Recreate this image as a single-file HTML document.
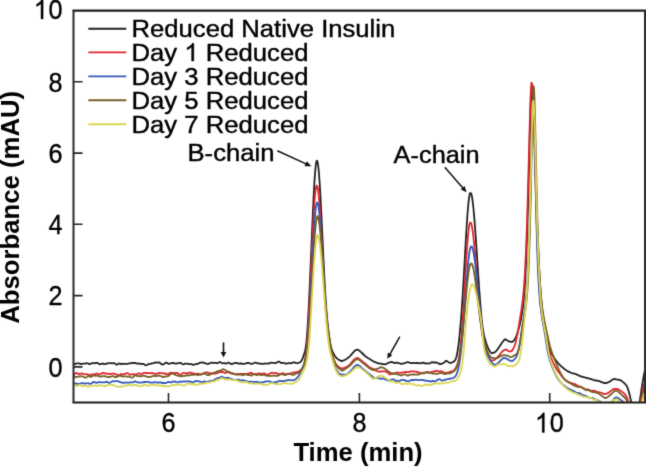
<!DOCTYPE html>
<html><head><meta charset="utf-8"><title>Chart</title>
<style>html,body{margin:0;padding:0;background:#fff;width:646px;height:468px;overflow:hidden}</style></head>
<body>
<svg width="646" height="468" viewBox="0 0 646 468" style="position:absolute;left:0;top:0;font-family:'Liberation Sans',sans-serif;filter:url(#soft)">
<rect width="646" height="468" fill="#fff"/>
<defs><filter id="soft" x="0" y="0" width="100%" height="100%" color-interpolation-filters="sRGB"><feConvolveMatrix order="3" kernelMatrix="0.0144 0.0912 0.0144 0.0912 0.5776 0.0912 0.0144 0.0912 0.0144" edgeMode="duplicate" preserveAlpha="false"/></filter><clipPath id="c"><rect x="73.5" y="10.6" width="571.5" height="391.9"/></clipPath></defs>
<g clip-path="url(#c)" fill="none" stroke-width="1.8" stroke-linejoin="round" stroke-linecap="round">
<path d="M73.0 363.8 L73.5 363.9 L74.0 364.1 L74.5 364.1 L75.0 364.1 L75.5 363.9 L76.0 363.7 L76.5 363.5 L77.0 363.3 L77.5 363.3 L78.0 363.3 L78.5 363.3 L79.0 363.4 L79.5 363.6 L80.0 363.7 L80.5 363.9 L81.0 364.0 L81.5 364.0 L82.0 363.9 L82.5 363.8 L83.0 363.7 L83.5 363.6 L84.0 363.6 L84.5 363.6 L85.0 363.6 L85.5 363.5 L86.0 363.3 L86.5 363.2 L87.0 363.2 L87.5 363.3 L88.0 363.5 L88.5 363.8 L89.0 364.0 L89.5 364.0 L90.0 364.0 L90.5 363.8 L91.0 363.6 L91.5 363.4 L92.0 363.3 L92.5 363.2 L93.0 363.1 L93.5 363.2 L94.0 363.2 L94.5 363.3 L95.0 363.2 L95.5 363.1 L96.0 363.0 L96.5 362.9 L97.0 362.9 L97.5 363.0 L98.0 363.3 L98.5 363.6 L99.0 363.9 L99.5 364.1 L100.0 364.3 L100.5 364.2 L101.0 364.0 L101.5 363.8 L102.0 363.6 L102.5 363.5 L103.0 363.7 L103.5 363.9 L104.0 364.1 L104.5 364.2 L105.0 364.1 L105.5 363.9 L106.0 363.8 L106.5 363.6 L107.0 363.5 L107.5 363.4 L108.0 363.3 L108.5 363.3 L109.0 363.2 L109.5 363.2 L110.0 363.2 L110.5 363.2 L111.0 363.2 L111.5 363.2 L112.0 363.3 L112.5 363.3 L113.0 363.2 L113.5 363.1 L114.0 363.1 L114.5 363.3 L115.0 363.6 L115.5 364.0 L116.0 364.4 L116.5 364.7 L117.0 364.7 L117.5 364.5 L118.0 364.1 L118.5 363.7 L119.0 363.5 L119.5 363.6 L120.0 363.7 L120.5 363.9 L121.0 364.0 L121.5 364.0 L122.0 363.9 L122.5 363.8 L123.0 363.7 L123.5 363.8 L124.0 363.8 L124.5 363.9 L125.0 363.8 L125.5 363.8 L126.0 363.8 L126.5 363.8 L127.0 363.9 L127.5 363.8 L128.0 363.7 L128.5 363.5 L129.0 363.4 L129.5 363.4 L130.0 363.4 L130.5 363.4 L131.0 363.3 L131.5 363.1 L132.0 363.0 L132.5 362.9 L133.0 362.9 L133.5 362.9 L134.0 363.0 L134.5 363.0 L135.0 363.0 L135.5 363.1 L136.0 363.3 L136.5 363.4 L137.0 363.6 L137.5 363.6 L138.0 363.6 L138.5 363.5 L139.0 363.5 L139.5 363.6 L140.0 363.7 L140.5 363.9 L141.0 364.0 L141.5 364.0 L142.0 363.9 L142.5 363.8 L143.0 363.9 L143.5 364.0 L144.0 364.2 L144.5 364.6 L145.0 364.9 L145.5 365.2 L146.0 365.3 L146.5 365.2 L147.0 365.0 L147.5 364.7 L148.0 364.4 L148.5 364.1 L149.0 364.0 L149.5 363.8 L150.0 363.8 L150.5 363.8 L151.0 363.7 L151.5 363.6 L152.0 363.4 L152.5 363.3 L153.0 363.2 L153.5 363.2 L154.0 363.0 L154.5 362.8 L155.0 362.6 L155.5 362.5 L156.0 362.5 L156.5 362.6 L157.0 362.7 L157.5 362.7 L158.0 362.6 L158.5 362.5 L159.0 362.5 L159.5 362.6 L160.0 362.9 L160.5 363.3 L161.0 363.7 L161.5 364.1 L162.0 364.4 L162.5 364.5 L163.0 364.5 L163.5 364.3 L164.0 364.0 L164.5 363.6 L165.0 363.2 L165.5 362.9 L166.0 362.7 L166.5 362.6 L167.0 362.8 L167.5 363.1 L168.0 363.5 L168.5 363.8 L169.0 363.8 L169.5 363.7 L170.0 363.5 L170.5 363.4 L171.0 363.3 L171.5 363.2 L172.0 363.1 L172.5 363.0 L173.0 363.0 L173.5 363.0 L174.0 363.2 L174.5 363.4 L175.0 363.6 L175.5 363.6 L176.0 363.6 L176.5 363.5 L177.0 363.4 L177.5 363.4 L178.0 363.3 L178.5 363.2 L179.0 363.1 L179.5 362.9 L180.0 362.9 L180.5 362.9 L181.0 363.1 L181.5 363.4 L182.0 363.8 L182.5 364.1 L183.0 364.3 L183.5 364.3 L184.0 364.2 L184.5 363.9 L185.0 363.7 L185.5 363.6 L186.0 363.6 L186.5 363.6 L187.0 363.7 L187.5 363.8 L188.0 363.9 L188.5 364.0 L189.0 364.1 L189.5 364.2 L190.0 364.2 L190.5 364.1 L191.0 364.1 L191.5 364.2 L192.0 364.4 L192.5 364.6 L193.0 364.8 L193.5 364.9 L194.0 364.7 L194.5 364.5 L195.0 364.3 L195.5 364.1 L196.0 364.1 L196.5 364.1 L197.0 364.0 L197.5 363.9 L198.0 363.7 L198.5 363.4 L199.0 363.1 L199.5 362.9 L200.0 362.8 L200.5 362.7 L201.0 362.6 L201.5 362.5 L202.0 362.4 L202.5 362.4 L203.0 362.5 L203.5 362.7 L204.0 362.9 L204.5 363.1 L205.0 363.2 L205.5 363.4 L206.0 363.5 L206.5 363.6 L207.0 363.8 L207.5 363.9 L208.0 363.9 L208.5 363.8 L209.0 363.7 L209.5 363.4 L210.0 363.2 L210.5 362.9 L211.0 362.8 L211.5 362.7 L212.0 362.7 L212.5 362.8 L213.0 362.8 L213.5 362.8 L214.0 362.8 L214.5 362.8 L215.0 362.7 L215.5 362.8 L216.0 362.9 L216.5 363.1 L217.0 363.2 L217.5 363.2 L218.0 363.0 L218.5 362.7 L219.0 362.4 L219.5 362.2 L220.0 362.1 L220.5 362.2 L221.0 362.5 L221.5 362.9 L222.0 363.2 L222.5 363.3 L223.0 363.3 L223.5 363.2 L224.0 363.1 L224.5 363.2 L225.0 363.3 L225.5 363.5 L226.0 363.6 L226.5 363.5 L227.0 363.3 L227.5 363.0 L228.0 362.7 L228.5 362.6 L229.0 362.7 L229.5 363.0 L230.0 363.4 L230.5 363.8 L231.0 364.0 L231.5 364.1 L232.0 364.0 L232.5 363.8 L233.0 363.6 L233.5 363.4 L234.0 363.3 L234.5 363.2 L235.0 363.1 L235.5 362.9 L236.0 362.9 L236.5 362.9 L237.0 363.0 L237.5 363.2 L238.0 363.5 L238.5 363.6 L239.0 363.7 L239.5 363.6 L240.0 363.5 L240.5 363.5 L241.0 363.4 L241.5 363.5 L242.0 363.6 L242.5 363.8 L243.0 363.9 L243.5 363.9 L244.0 363.9 L244.5 363.8 L245.0 363.7 L245.5 363.5 L246.0 363.3 L246.5 363.2 L247.0 363.1 L247.5 363.0 L248.0 362.9 L248.5 362.9 L249.0 363.0 L249.5 363.2 L250.0 363.5 L250.5 363.7 L251.0 363.8 L251.5 363.8 L252.0 363.8 L252.5 363.7 L253.0 363.5 L253.5 363.3 L254.0 363.0 L254.5 362.8 L255.0 362.7 L255.5 362.7 L256.0 362.8 L256.5 363.0 L257.0 363.1 L257.5 363.3 L258.0 363.4 L258.5 363.4 L259.0 363.5 L259.5 363.5 L260.0 363.6 L260.5 363.7 L261.0 363.7 L261.5 363.8 L262.0 363.8 L262.5 363.9 L263.0 363.9 L263.5 363.8 L264.0 363.7 L264.5 363.6 L265.0 363.5 L265.5 363.6 L266.0 363.6 L266.5 363.7 L267.0 363.6 L267.5 363.6 L268.0 363.5 L268.5 363.5 L269.0 363.4 L269.5 363.3 L270.0 363.1 L270.5 362.8 L271.0 362.7 L271.5 362.7 L272.0 362.8 L272.5 362.8 L273.0 362.8 L273.5 362.8 L274.0 362.8 L274.5 363.0 L275.0 363.1 L275.5 363.2 L276.0 363.1 L276.5 362.8 L277.0 362.4 L277.5 362.0 L278.0 361.7 L278.5 361.6 L279.0 361.6 L279.5 361.8 L280.0 362.2 L280.5 362.5 L281.0 362.9 L281.5 363.0 L282.0 363.0 L282.5 362.8 L283.0 362.8 L283.5 362.8 L284.0 363.0 L284.5 363.2 L285.0 363.4 L285.5 363.6 L286.0 363.6 L286.5 363.5 L287.0 363.4 L287.5 363.4 L288.0 363.3 L288.5 363.2 L289.0 363.1 L289.5 363.1 L290.0 363.1 L290.5 363.2 L291.0 363.3 L291.5 363.2 L292.0 363.0 L292.5 362.7 L293.0 362.5 L293.5 362.4 L294.0 362.4 L294.5 362.5 L295.0 362.6 L295.5 362.8 L296.0 363.0 L296.5 363.2 L297.0 363.3 L297.5 363.2 L298.0 363.0 L298.5 362.8 L299.0 362.6 L299.5 362.5 L300.0 362.3 L300.5 361.9 L301.0 361.4 L301.5 360.7 L302.0 359.8 L302.5 358.6 L303.0 357.3 L303.5 355.9 L304.0 354.4 L304.5 352.8 L305.0 351.0 L305.5 348.6 L306.0 345.5 L306.5 341.2 L307.0 335.6 L307.5 328.7 L308.0 320.5 L308.5 311.4 L309.0 301.5 L309.5 290.9 L310.0 279.8 L310.5 268.4 L311.0 256.7 L311.5 244.7 L312.0 232.8 L312.5 221.1 L313.0 209.9 L313.5 199.2 L314.0 189.5 L314.5 180.9 L315.0 173.6 L315.5 167.8 L316.0 163.6 L316.5 161.2 L317.0 160.6 L317.5 161.7 L318.0 164.3 L318.5 168.4 L319.0 173.9 L319.5 180.7 L320.0 188.6 L320.5 197.4 L321.0 207.0 L321.5 217.2 L322.0 227.8 L322.5 238.6 L323.0 249.4 L323.5 260.0 L324.0 270.3 L324.5 280.0 L325.0 289.2 L325.5 297.5 L326.0 304.9 L326.5 311.5 L327.0 317.3 L327.5 322.5 L328.0 327.1 L328.5 331.3 L329.0 335.2 L329.5 338.7 L330.0 341.9 L330.5 344.6 L331.0 346.8 L331.5 348.6 L332.0 350.1 L332.5 351.4 L333.0 352.5 L333.5 353.5 L334.0 354.4 L334.5 355.3 L335.0 356.1 L335.5 356.8 L336.0 357.4 L336.5 357.9 L337.0 358.4 L337.5 358.9 L338.0 359.3 L338.5 359.6 L339.0 359.9 L339.5 360.1 L340.0 360.4 L340.5 360.6 L341.0 360.9 L341.5 361.0 L342.0 361.1 L342.5 360.9 L343.0 360.7 L343.5 360.5 L344.0 360.3 L344.5 360.1 L345.0 359.8 L345.5 359.5 L346.0 359.2 L346.5 358.9 L347.0 358.5 L347.5 358.2 L348.0 357.8 L348.5 357.4 L349.0 357.0 L349.5 356.6 L350.0 356.1 L350.5 355.6 L351.0 355.0 L351.5 354.5 L352.0 353.9 L352.5 353.2 L353.0 352.6 L353.5 352.1 L354.0 351.5 L354.5 351.0 L355.0 350.6 L355.5 350.2 L356.0 350.0 L356.5 349.9 L357.0 349.7 L357.5 349.7 L358.0 349.8 L358.5 350.1 L359.0 350.4 L359.5 350.8 L360.0 351.2 L360.5 351.6 L361.0 352.1 L361.5 352.5 L362.0 353.0 L362.5 353.5 L363.0 354.0 L363.5 354.5 L364.0 355.0 L364.5 355.5 L365.0 355.9 L365.5 356.3 L366.0 356.7 L366.5 357.1 L367.0 357.4 L367.5 357.8 L368.0 358.1 L368.5 358.3 L369.0 358.6 L369.5 358.9 L370.0 359.2 L370.5 359.5 L371.0 359.8 L371.5 360.2 L372.0 360.5 L372.5 360.8 L373.0 361.1 L373.5 361.4 L374.0 361.7 L374.5 361.9 L375.0 362.1 L375.5 362.3 L376.0 362.5 L376.5 362.7 L377.0 362.9 L377.5 363.0 L378.0 363.2 L378.5 363.3 L379.0 363.5 L379.5 363.6 L380.0 363.7 L380.5 363.7 L381.0 363.7 L381.5 363.8 L382.0 363.9 L382.5 364.0 L383.0 364.1 L383.5 364.2 L384.0 364.2 L384.5 364.3 L385.0 364.3 L385.5 364.3 L386.0 364.1 L386.5 363.9 L387.0 363.6 L387.5 363.3 L388.0 363.0 L388.5 362.8 L389.0 362.6 L389.5 362.5 L390.0 362.3 L390.5 362.2 L391.0 362.1 L391.5 362.0 L392.0 362.0 L392.5 362.2 L393.0 362.4 L393.5 362.7 L394.0 362.9 L394.5 363.0 L395.0 363.0 L395.5 362.8 L396.0 362.6 L396.5 362.6 L397.0 362.7 L397.5 362.9 L398.0 363.0 L398.5 363.1 L399.0 363.2 L399.5 363.3 L400.0 363.5 L400.5 363.6 L401.0 363.8 L401.5 363.8 L402.0 363.8 L402.5 363.7 L403.0 363.6 L403.5 363.4 L404.0 363.3 L404.5 363.2 L405.0 363.0 L405.5 362.8 L406.0 362.6 L406.5 362.4 L407.0 362.3 L407.5 362.2 L408.0 362.2 L408.5 362.3 L409.0 362.5 L409.5 362.7 L410.0 362.9 L410.5 363.0 L411.0 363.2 L411.5 363.2 L412.0 363.1 L412.5 362.9 L413.0 362.8 L413.5 362.9 L414.0 363.0 L414.5 363.2 L415.0 363.2 L415.5 363.1 L416.0 363.0 L416.5 363.0 L417.0 362.9 L417.5 362.9 L418.0 363.0 L418.5 363.1 L419.0 363.2 L419.5 363.3 L420.0 363.3 L420.5 363.3 L421.0 363.2 L421.5 363.1 L422.0 362.9 L422.5 362.8 L423.0 362.7 L423.5 362.7 L424.0 362.9 L424.5 363.1 L425.0 363.3 L425.5 363.5 L426.0 363.5 L426.5 363.4 L427.0 363.4 L427.5 363.4 L428.0 363.4 L428.5 363.4 L429.0 363.5 L429.5 363.4 L430.0 363.3 L430.5 363.0 L431.0 362.7 L431.5 362.4 L432.0 362.2 L432.5 362.2 L433.0 362.3 L433.5 362.5 L434.0 362.6 L434.5 362.5 L435.0 362.5 L435.5 362.4 L436.0 362.5 L436.5 362.6 L437.0 362.7 L437.5 362.9 L438.0 363.1 L438.5 363.4 L439.0 363.7 L439.5 363.9 L440.0 364.0 L440.5 364.0 L441.0 363.9 L441.5 363.8 L442.0 363.6 L442.5 363.4 L443.0 363.2 L443.5 363.0 L444.0 362.6 L444.5 362.1 L445.0 361.6 L445.5 361.1 L446.0 360.9 L446.5 360.9 L447.0 361.1 L447.5 361.5 L448.0 361.9 L448.5 362.3 L449.0 362.5 L449.5 362.7 L450.0 362.8 L450.5 362.8 L451.0 362.8 L451.5 362.7 L452.0 362.4 L452.5 362.2 L453.0 362.0 L453.5 361.8 L454.0 361.5 L454.5 361.0 L455.0 360.3 L455.5 359.4 L456.0 358.1 L456.5 356.4 L457.0 354.3 L457.5 351.6 L458.0 348.4 L458.5 344.8 L459.0 340.6 L459.5 336.0 L460.0 330.9 L460.5 325.3 L461.0 319.2 L461.5 312.7 L462.0 305.6 L462.5 298.0 L463.0 290.0 L463.5 281.6 L464.0 272.9 L464.5 264.0 L465.0 255.0 L465.5 246.0 L466.0 237.3 L466.5 229.0 L467.0 221.2 L467.5 214.0 L468.0 207.7 L468.5 202.4 L469.0 198.1 L469.5 195.0 L470.0 193.2 L470.5 193.2 L471.0 193.2 L471.5 194.6 L472.0 197.0 L472.5 200.2 L473.0 204.2 L473.5 209.0 L474.0 214.4 L474.5 220.4 L475.0 226.9 L475.5 233.9 L476.0 241.1 L476.5 248.6 L477.0 256.2 L477.5 263.8 L478.0 271.4 L478.5 278.9 L479.0 286.2 L479.5 293.2 L480.0 299.9 L480.5 306.3 L481.0 312.1 L481.5 317.5 L482.0 322.2 L482.5 326.3 L483.0 329.8 L483.5 332.8 L484.0 335.2 L484.5 337.3 L485.0 339.1 L485.5 340.8 L486.0 342.4 L486.5 343.9 L487.0 345.3 L487.5 346.6 L488.0 347.9 L488.5 349.0 L489.0 349.9 L489.5 350.8 L490.0 351.5 L490.5 352.1 L491.0 352.6 L491.5 352.9 L492.0 353.2 L492.5 353.2 L493.0 353.0 L493.5 352.9 L494.0 352.7 L494.5 352.4 L495.0 352.1 L495.5 351.6 L496.0 351.1 L496.5 350.6 L497.0 350.0 L497.5 349.4 L498.0 348.7 L498.5 348.0 L499.0 347.3 L499.5 346.6 L500.0 345.8 L500.5 345.0 L501.0 344.2 L501.5 343.4 L502.0 342.7 L502.5 342.0 L503.0 341.3 L503.5 340.8 L504.0 340.2 L504.5 339.8 L505.0 339.3 L505.5 339.2 L506.0 339.6 L506.5 340.0 L507.0 340.3 L507.5 340.6 L508.0 340.8 L508.5 341.1 L509.0 341.4 L509.5 341.6 L510.0 341.7 L510.5 341.7 L511.0 341.8 L511.5 342.0 L512.0 341.9 L512.5 341.7 L513.0 341.3 L513.5 340.8 L514.0 340.3 L514.5 339.6 L515.0 338.8 L515.5 337.8 L516.0 336.7 L516.5 335.5 L517.0 334.1 L517.5 332.6 L518.0 331.1 L518.5 329.5 L519.0 327.7 L519.5 325.8 L520.0 323.7 L520.5 321.4 L521.0 318.8 L521.5 316.1 L522.0 313.1 L522.5 309.8 L523.0 306.0 L523.5 301.6 L524.0 296.4 L524.5 290.0 L525.0 282.4 L525.5 273.4 L526.0 262.9 L526.5 250.8 L527.0 237.2 L527.5 221.9 L528.0 205.0 L528.5 186.7 L529.0 167.4 L529.5 147.6 L530.0 128.5 L530.5 111.3 L531.0 97.6 L531.5 88.9 L532.0 86.7 L532.5 89.1 L533.0 96.3 L533.5 107.2 L534.0 121.0 L534.5 136.7 L535.0 153.3 L535.5 170.2 L536.0 186.8 L536.5 202.6 L537.0 217.5 L537.5 231.4 L538.0 244.0 L538.5 255.4 L539.0 265.8 L539.5 275.0 L540.0 283.1 L540.5 290.4 L541.0 296.7 L541.5 302.3 L542.0 307.1 L542.5 311.3 L543.0 314.9 L543.5 318.0 L544.0 320.7 L544.5 323.3 L545.0 325.7 L545.5 328.2 L546.0 331.0 L546.5 334.0 L547.0 337.2 L547.5 340.3 L548.0 343.3 L548.5 345.8 L549.0 347.9 L549.5 349.5 L550.0 350.8 L550.5 351.9 L551.0 352.8 L551.5 353.7 L552.0 354.5 L552.5 355.2 L553.0 356.0 L553.5 356.8 L554.0 357.5 L554.5 358.2 L555.0 359.0 L555.5 359.7 L556.0 360.4 L556.5 361.1 L557.0 361.8 L557.5 362.4 L558.0 363.0 L558.5 363.6 L559.0 364.1 L559.5 364.6 L560.0 365.1 L560.5 365.6 L561.0 366.1 L561.5 366.5 L562.0 366.9 L562.5 367.4 L563.0 367.8 L563.5 368.2 L564.0 368.6 L564.5 369.0 L565.0 369.4 L565.5 369.8 L566.0 370.1 L566.5 370.5 L567.0 370.8 L567.5 371.1 L568.0 371.4 L568.5 371.6 L569.0 371.8 L569.5 372.0 L570.0 372.2 L570.5 372.5 L571.0 372.8 L571.5 373.0 L572.0 373.2 L572.5 373.3 L573.0 373.3 L573.5 373.4 L574.0 373.5 L574.5 373.7 L575.0 373.8 L575.5 374.0 L576.0 374.2 L576.5 374.4 L577.0 374.7 L577.5 374.9 L578.0 375.2 L578.5 375.4 L579.0 375.6 L579.5 375.8 L580.0 376.0 L580.5 376.2 L581.0 376.4 L581.5 376.5 L582.0 376.7 L582.5 376.9 L583.0 377.1 L583.5 377.2 L584.0 377.2 L584.5 377.3 L585.0 377.4 L585.5 377.6 L586.0 377.8 L586.5 378.0 L587.0 378.1 L587.5 378.1 L588.0 378.2 L588.5 378.3 L589.0 378.5 L589.5 378.7 L590.0 378.9 L590.5 379.0 L591.0 379.1 L591.5 379.1 L592.0 379.3 L592.5 379.5 L593.0 379.8 L593.5 380.0 L594.0 380.2 L594.5 380.3 L595.0 380.3 L595.5 380.4 L596.0 380.5 L596.5 380.5 L597.0 380.6 L597.5 380.7 L598.0 380.8 L598.5 381.0 L599.0 381.1 L599.5 381.2 L600.0 381.4 L600.5 381.6 L601.0 381.9 L601.5 382.1 L602.0 382.3 L602.5 382.4 L603.0 382.6 L603.5 382.8 L604.0 382.9 L604.5 383.0 L605.0 383.1 L605.5 383.1 L606.0 383.0 L606.5 382.9 L607.0 382.8 L607.5 382.6 L608.0 382.4 L608.5 382.2 L609.0 382.0 L609.5 381.7 L610.0 381.4 L610.5 381.1 L611.0 380.7 L611.5 380.3 L612.0 380.0 L612.5 379.6 L613.0 379.4 L613.5 379.2 L614.0 379.0 L614.5 379.0 L615.0 379.1 L615.5 379.2 L616.0 379.4 L616.5 379.5 L617.0 379.6 L617.5 379.6 L618.0 379.7 L618.5 379.8 L619.0 379.9 L619.5 380.0 L620.0 380.1 L620.5 380.3 L621.0 380.5 L621.5 380.8 L622.0 381.2 L622.5 381.6 L623.0 382.1 L623.5 382.5 L624.0 382.9 L624.5 383.3 L625.0 383.8 L625.5 384.3 L626.0 384.9 L626.5 385.7 L627.0 386.6 L627.5 387.7 L628.0 389.1 L628.5 390.6 L629.0 392.4 L629.5 394.3 L630.0 396.5 L630.5 398.8 L631.0 401.2 L631.5 403.8 L632.0 406.3 L632.5 408.7 L633.0 410.9 L633.5 412.9 L634.0 414.6 L634.5 416.0 L635.0 417.1 L635.5 417.8 L636.0 418.4 L636.5 417.8 L637.0 416.9 L637.5 415.2 L638.0 412.9 L638.5 409.9 L639.0 406.6 L639.5 403.1 L640.0 399.6 L640.5 396.2 L641.0 392.8 L641.5 389.5 L642.0 386.3 L642.5 383.2 L643.0 380.1 L643.5 377.2 L644.0 374.5 L644.5 372.2 L645.0 370.4" stroke="#222222"/>
<path d="M73.0 375.2 L73.5 375.0 L74.0 374.8 L74.5 374.3 L75.0 373.8 L75.5 373.3 L76.0 373.0 L76.5 373.0 L77.0 373.1 L77.5 373.4 L78.0 373.7 L78.5 373.9 L79.0 374.0 L79.5 373.9 L80.0 373.8 L80.5 373.7 L81.0 373.5 L81.5 373.4 L82.0 373.5 L82.5 373.6 L83.0 373.8 L83.5 374.0 L84.0 374.2 L84.5 374.3 L85.0 374.3 L85.5 374.2 L86.0 374.2 L86.5 374.2 L87.0 374.3 L87.5 374.4 L88.0 374.6 L88.5 374.8 L89.0 375.0 L89.5 375.1 L90.0 375.1 L90.5 374.9 L91.0 374.7 L91.5 374.5 L92.0 374.4 L92.5 374.4 L93.0 374.4 L93.5 374.4 L94.0 374.4 L94.5 374.3 L95.0 374.1 L95.5 373.9 L96.0 373.7 L96.5 373.6 L97.0 373.5 L97.5 373.6 L98.0 373.8 L98.5 374.0 L99.0 374.2 L99.5 374.3 L100.0 374.3 L100.5 374.2 L101.0 373.9 L101.5 373.6 L102.0 373.2 L102.5 372.9 L103.0 372.9 L103.5 373.0 L104.0 373.2 L104.5 373.4 L105.0 373.5 L105.5 373.5 L106.0 373.5 L106.5 373.5 L107.0 373.6 L107.5 373.7 L108.0 373.8 L108.5 373.9 L109.0 374.0 L109.5 374.1 L110.0 374.1 L110.5 374.1 L111.0 374.0 L111.5 373.8 L112.0 373.7 L112.5 373.6 L113.0 373.6 L113.5 373.6 L114.0 373.7 L114.5 373.8 L115.0 373.9 L115.5 374.0 L116.0 374.3 L116.5 374.6 L117.0 374.9 L117.5 375.1 L118.0 375.2 L118.5 375.2 L119.0 375.2 L119.5 375.0 L120.0 374.7 L120.5 374.4 L121.0 374.2 L121.5 374.0 L122.0 374.1 L122.5 374.3 L123.0 374.4 L123.5 374.5 L124.0 374.4 L124.5 374.1 L125.0 373.9 L125.5 373.6 L126.0 373.4 L126.5 373.2 L127.0 373.2 L127.5 373.2 L128.0 373.4 L128.5 373.7 L129.0 374.0 L129.5 374.3 L130.0 374.5 L130.5 374.6 L131.0 374.5 L131.5 374.4 L132.0 374.3 L132.5 374.3 L133.0 374.2 L133.5 374.2 L134.0 374.2 L134.5 374.3 L135.0 374.5 L135.5 374.6 L136.0 374.6 L136.5 374.4 L137.0 374.1 L137.5 373.8 L138.0 373.5 L138.5 373.3 L139.0 373.3 L139.5 373.4 L140.0 373.6 L140.5 373.8 L141.0 373.9 L141.5 373.9 L142.0 373.8 L142.5 373.6 L143.0 373.3 L143.5 373.0 L144.0 372.8 L144.5 372.8 L145.0 372.9 L145.5 373.1 L146.0 373.1 L146.5 373.1 L147.0 373.0 L147.5 372.9 L148.0 373.0 L148.5 373.1 L149.0 373.2 L149.5 373.3 L150.0 373.3 L150.5 373.2 L151.0 373.1 L151.5 373.0 L152.0 373.0 L152.5 373.0 L153.0 373.2 L153.5 373.5 L154.0 373.7 L154.5 373.8 L155.0 373.9 L155.5 373.9 L156.0 374.0 L156.5 373.9 L157.0 373.8 L157.5 373.5 L158.0 373.2 L158.5 372.9 L159.0 372.8 L159.5 372.9 L160.0 373.0 L160.5 373.2 L161.0 373.2 L161.5 373.2 L162.0 373.2 L162.5 373.3 L163.0 373.4 L163.5 373.5 L164.0 373.5 L164.5 373.6 L165.0 373.5 L165.5 373.5 L166.0 373.7 L166.5 373.9 L167.0 374.1 L167.5 374.3 L168.0 374.4 L168.5 374.2 L169.0 373.8 L169.5 373.3 L170.0 372.9 L170.5 372.7 L171.0 372.8 L171.5 372.9 L172.0 373.0 L172.5 373.0 L173.0 373.0 L173.5 373.0 L174.0 373.1 L174.5 373.1 L175.0 373.2 L175.5 373.1 L176.0 372.9 L176.5 372.8 L177.0 372.8 L177.5 372.9 L178.0 373.2 L178.5 373.6 L179.0 374.1 L179.5 374.5 L180.0 374.7 L180.5 374.8 L181.0 374.7 L181.5 374.3 L182.0 373.9 L182.5 373.4 L183.0 373.0 L183.5 372.8 L184.0 372.8 L184.5 373.0 L185.0 373.2 L185.5 373.4 L186.0 373.5 L186.5 373.4 L187.0 373.3 L187.5 373.2 L188.0 373.1 L188.5 373.0 L189.0 372.8 L189.5 372.7 L190.0 372.6 L190.5 372.6 L191.0 372.7 L191.5 372.9 L192.0 373.1 L192.5 373.3 L193.0 373.4 L193.5 373.5 L194.0 373.6 L194.5 373.7 L195.0 373.8 L195.5 373.8 L196.0 373.8 L196.5 373.8 L197.0 373.7 L197.5 373.7 L198.0 373.7 L198.5 373.7 L199.0 373.8 L199.5 374.0 L200.0 374.2 L200.5 374.3 L201.0 374.3 L201.5 374.2 L202.0 374.1 L202.5 374.0 L203.0 373.9 L203.5 373.8 L204.0 373.5 L204.5 373.2 L205.0 372.9 L205.5 372.6 L206.0 372.5 L206.5 372.4 L207.0 372.5 L207.5 372.5 L208.0 372.7 L208.5 372.9 L209.0 373.1 L209.5 373.2 L210.0 373.3 L210.5 373.3 L211.0 373.3 L211.5 373.3 L212.0 373.3 L212.5 373.4 L213.0 373.5 L213.5 373.6 L214.0 373.7 L214.5 373.7 L215.0 373.7 L215.5 373.6 L216.0 373.5 L216.5 373.4 L217.0 373.2 L217.5 372.9 L218.0 372.6 L218.5 372.4 L219.0 372.2 L219.5 372.2 L220.0 372.2 L220.5 372.2 L221.0 372.2 L221.5 372.1 L222.0 372.0 L222.5 371.9 L223.0 371.9 L223.5 372.2 L224.0 372.5 L224.5 372.8 L225.0 373.0 L225.5 372.9 L226.0 372.7 L226.5 372.5 L227.0 372.3 L227.5 372.2 L228.0 372.2 L228.5 372.3 L229.0 372.5 L229.5 372.7 L230.0 372.9 L230.5 373.2 L231.0 373.4 L231.5 373.5 L232.0 373.5 L232.5 373.6 L233.0 373.6 L233.5 373.8 L234.0 374.0 L234.5 374.2 L235.0 374.3 L235.5 374.4 L236.0 374.4 L236.5 374.3 L237.0 374.2 L237.5 374.1 L238.0 374.0 L238.5 373.9 L239.0 374.0 L239.5 374.0 L240.0 374.0 L240.5 374.0 L241.0 373.9 L241.5 373.9 L242.0 373.8 L242.5 373.8 L243.0 373.8 L243.5 373.9 L244.0 373.9 L244.5 374.0 L245.0 374.1 L245.5 374.1 L246.0 374.1 L246.5 374.0 L247.0 373.8 L247.5 373.7 L248.0 373.7 L248.5 373.6 L249.0 373.5 L249.5 373.3 L250.0 373.1 L250.5 373.0 L251.0 372.9 L251.5 373.0 L252.0 373.3 L252.5 373.5 L253.0 373.8 L253.5 373.9 L254.0 374.0 L254.5 374.1 L255.0 374.1 L255.5 374.1 L256.0 374.1 L256.5 374.1 L257.0 374.0 L257.5 373.8 L258.0 373.6 L258.5 373.5 L259.0 373.5 L259.5 373.6 L260.0 373.7 L260.5 373.8 L261.0 373.8 L261.5 373.7 L262.0 373.6 L262.5 373.6 L263.0 373.6 L263.5 373.6 L264.0 373.5 L264.5 373.5 L265.0 373.6 L265.5 373.9 L266.0 374.3 L266.5 374.6 L267.0 374.8 L267.5 374.8 L268.0 374.6 L268.5 374.3 L269.0 374.0 L269.5 373.7 L270.0 373.4 L270.5 373.3 L271.0 373.1 L271.5 372.9 L272.0 372.7 L272.5 372.8 L273.0 373.0 L273.5 373.2 L274.0 373.3 L274.5 373.3 L275.0 373.1 L275.5 373.0 L276.0 373.0 L276.5 373.1 L277.0 373.4 L277.5 373.6 L278.0 373.8 L278.5 373.9 L279.0 374.0 L279.5 374.1 L280.0 374.1 L280.5 374.0 L281.0 373.8 L281.5 373.6 L282.0 373.4 L282.5 373.3 L283.0 373.2 L283.5 373.3 L284.0 373.6 L284.5 373.8 L285.0 374.0 L285.5 374.2 L286.0 374.2 L286.5 374.2 L287.0 374.2 L287.5 374.2 L288.0 374.2 L288.5 374.1 L289.0 374.0 L289.5 373.8 L290.0 373.7 L290.5 373.5 L291.0 373.4 L291.5 373.2 L292.0 373.0 L292.5 372.8 L293.0 372.6 L293.5 372.5 L294.0 372.5 L294.5 372.6 L295.0 372.5 L295.5 372.4 L296.0 372.3 L296.5 372.1 L297.0 372.0 L297.5 371.9 L298.0 371.8 L298.5 371.6 L299.0 371.4 L299.5 371.0 L300.0 370.6 L300.5 370.2 L301.0 369.7 L301.5 369.2 L302.0 368.6 L302.5 367.9 L303.0 367.0 L303.5 365.9 L304.0 364.4 L304.5 362.4 L305.0 359.8 L305.5 356.6 L306.0 352.5 L306.5 347.7 L307.0 342.0 L307.5 335.5 L308.0 328.2 L308.5 320.1 L309.0 311.3 L309.5 301.8 L310.0 291.7 L310.5 281.1 L311.0 270.3 L311.5 259.3 L312.0 248.4 L312.5 237.7 L313.0 227.5 L313.5 218.0 L314.0 209.4 L314.5 201.9 L315.0 195.6 L315.5 190.8 L316.0 187.4 L316.5 185.7 L317.0 185.6 L317.5 186.8 L318.0 189.5 L318.5 193.4 L319.0 198.5 L319.5 204.7 L320.0 211.8 L320.5 219.7 L321.0 228.3 L321.5 237.2 L322.0 246.4 L322.5 255.8 L323.0 265.0 L323.5 274.2 L324.0 283.0 L324.5 291.4 L325.0 299.3 L325.5 306.7 L326.0 313.5 L326.5 319.7 L327.0 325.4 L327.5 330.3 L328.0 334.7 L328.5 338.6 L329.0 341.9 L329.5 344.8 L330.0 347.2 L330.5 349.4 L331.0 351.2 L331.5 352.9 L332.0 354.4 L332.5 355.9 L333.0 357.3 L333.5 358.6 L334.0 359.9 L334.5 361.1 L335.0 362.2 L335.5 363.2 L336.0 364.0 L336.5 364.7 L337.0 365.3 L337.5 365.9 L338.0 366.3 L338.5 366.7 L339.0 367.1 L339.5 367.5 L340.0 367.8 L340.5 368.1 L341.0 368.4 L341.5 368.5 L342.0 368.5 L342.5 368.5 L343.0 368.3 L343.5 368.2 L344.0 368.0 L344.5 367.9 L345.0 367.7 L345.5 367.4 L346.0 367.2 L346.5 366.9 L347.0 366.6 L347.5 366.3 L348.0 366.0 L348.5 365.7 L349.0 365.3 L349.5 364.9 L350.0 364.4 L350.5 363.8 L351.0 363.2 L351.5 362.6 L352.0 362.0 L352.5 361.4 L353.0 360.8 L353.5 360.2 L354.0 359.7 L354.5 359.2 L355.0 358.9 L355.5 358.6 L356.0 358.4 L356.5 358.2 L357.0 357.9 L357.5 357.9 L358.0 358.1 L358.5 358.4 L359.0 358.7 L359.5 359.1 L360.0 359.5 L360.5 359.9 L361.0 360.3 L361.5 360.7 L362.0 361.0 L362.5 361.5 L363.0 361.9 L363.5 362.3 L364.0 362.8 L364.5 363.1 L365.0 363.5 L365.5 363.9 L366.0 364.2 L366.5 364.6 L367.0 365.1 L367.5 365.5 L368.0 365.9 L368.5 366.4 L369.0 366.8 L369.5 367.1 L370.0 367.5 L370.5 367.8 L371.0 368.1 L371.5 368.4 L372.0 368.6 L372.5 368.7 L373.0 368.8 L373.5 369.0 L374.0 369.2 L374.5 369.5 L375.0 369.9 L375.5 370.3 L376.0 370.7 L376.5 371.0 L377.0 371.2 L377.5 371.3 L378.0 371.4 L378.5 371.4 L379.0 371.5 L379.5 371.6 L380.0 371.6 L380.5 371.6 L381.0 371.5 L381.5 371.5 L382.0 371.4 L382.5 371.4 L383.0 371.3 L383.5 371.3 L384.0 371.3 L384.5 371.3 L385.0 371.4 L385.5 371.6 L386.0 371.8 L386.5 372.0 L387.0 372.3 L387.5 372.6 L388.0 373.0 L388.5 373.4 L389.0 373.9 L389.5 374.2 L390.0 374.4 L390.5 374.4 L391.0 374.2 L391.5 373.9 L392.0 373.6 L392.5 373.4 L393.0 373.3 L393.5 373.3 L394.0 373.3 L394.5 373.2 L395.0 373.0 L395.5 372.8 L396.0 372.7 L396.5 372.7 L397.0 372.7 L397.5 372.7 L398.0 372.7 L398.5 372.7 L399.0 372.7 L399.5 372.8 L400.0 372.9 L400.5 372.9 L401.0 372.8 L401.5 372.7 L402.0 372.5 L402.5 372.4 L403.0 372.4 L403.5 372.4 L404.0 372.4 L404.5 372.3 L405.0 372.1 L405.5 372.0 L406.0 372.0 L406.5 372.0 L407.0 372.1 L407.5 372.2 L408.0 372.2 L408.5 372.1 L409.0 371.9 L409.5 371.8 L410.0 371.6 L410.5 371.4 L411.0 371.4 L411.5 371.3 L412.0 371.3 L412.5 371.3 L413.0 371.3 L413.5 371.4 L414.0 371.5 L414.5 371.6 L415.0 371.7 L415.5 371.7 L416.0 371.7 L416.5 371.8 L417.0 371.9 L417.5 372.0 L418.0 372.2 L418.5 372.4 L419.0 372.6 L419.5 372.8 L420.0 373.0 L420.5 373.1 L421.0 373.2 L421.5 373.3 L422.0 373.3 L422.5 373.4 L423.0 373.4 L423.5 373.4 L424.0 373.3 L424.5 373.1 L425.0 372.8 L425.5 372.5 L426.0 372.1 L426.5 371.9 L427.0 371.8 L427.5 371.9 L428.0 372.1 L428.5 372.3 L429.0 372.5 L429.5 372.5 L430.0 372.5 L430.5 372.3 L431.0 372.2 L431.5 372.1 L432.0 372.0 L432.5 371.9 L433.0 371.7 L433.5 371.5 L434.0 371.3 L434.5 371.2 L435.0 371.1 L435.5 371.0 L436.0 370.9 L436.5 370.8 L437.0 370.8 L437.5 370.9 L438.0 371.1 L438.5 371.3 L439.0 371.4 L439.5 371.5 L440.0 371.5 L440.5 371.5 L441.0 371.5 L441.5 371.5 L442.0 371.5 L442.5 371.6 L443.0 371.9 L443.5 372.2 L444.0 372.5 L444.5 372.7 L445.0 372.9 L445.5 372.9 L446.0 372.9 L446.5 372.8 L447.0 372.7 L447.5 372.5 L448.0 372.4 L448.5 372.3 L449.0 372.3 L449.5 372.1 L450.0 371.9 L450.5 371.7 L451.0 371.5 L451.5 371.4 L452.0 371.3 L452.5 371.2 L453.0 371.0 L453.5 370.7 L454.0 370.3 L454.5 369.8 L455.0 369.1 L455.5 368.3 L456.0 367.4 L456.5 366.3 L457.0 365.0 L457.5 363.5 L458.0 361.7 L458.5 359.7 L459.0 357.2 L459.5 354.3 L460.0 350.8 L460.5 346.6 L461.0 341.7 L461.5 336.0 L462.0 329.6 L462.5 322.5 L463.0 314.8 L463.5 306.7 L464.0 298.2 L464.5 289.5 L465.0 280.8 L465.5 272.2 L466.0 263.8 L466.5 255.8 L467.0 248.3 L467.5 241.6 L468.0 235.7 L468.5 230.8 L469.0 226.9 L469.5 224.2 L470.0 222.8 L470.5 222.4 L471.0 223.1 L471.5 224.5 L472.0 226.7 L472.5 229.7 L473.0 233.4 L473.5 237.7 L474.0 242.6 L474.5 247.9 L475.0 253.7 L475.5 259.8 L476.0 266.2 L476.5 272.7 L477.0 279.2 L477.5 285.8 L478.0 292.3 L478.5 298.6 L479.0 304.6 L479.5 310.4 L480.0 315.8 L480.5 320.7 L481.0 325.2 L481.5 329.1 L482.0 332.6 L482.5 335.6 L483.0 338.3 L483.5 340.6 L484.0 342.6 L484.5 344.6 L485.0 346.4 L485.5 348.1 L486.0 349.8 L486.5 351.4 L487.0 352.9 L487.5 354.2 L488.0 355.4 L488.5 356.5 L489.0 357.5 L489.5 358.3 L490.0 359.1 L490.5 359.6 L491.0 360.1 L491.5 360.3 L492.0 360.4 L492.5 360.3 L493.0 360.4 L493.5 360.4 L494.0 360.2 L494.5 359.9 L495.0 359.5 L495.5 359.1 L496.0 358.7 L496.5 358.2 L497.0 357.7 L497.5 357.1 L498.0 356.6 L498.5 356.1 L499.0 355.5 L499.5 354.9 L500.0 354.3 L500.5 353.7 L501.0 353.1 L501.5 352.4 L502.0 351.9 L502.5 351.3 L503.0 350.8 L503.5 350.4 L504.0 350.1 L504.5 349.9 L505.0 349.8 L505.5 349.6 L506.0 349.5 L506.5 349.7 L507.0 350.0 L507.5 350.4 L508.0 350.8 L508.5 351.1 L509.0 351.3 L509.5 351.4 L510.0 351.3 L510.5 351.5 L511.0 351.4 L511.5 351.0 L512.0 350.5 L512.5 349.9 L513.0 349.1 L513.5 348.2 L514.0 347.2 L514.5 346.0 L515.0 344.5 L515.5 342.9 L516.0 340.9 L516.5 338.7 L517.0 336.3 L517.5 333.6 L518.0 330.8 L518.5 327.8 L519.0 324.8 L519.5 321.7 L520.0 318.6 L520.5 315.5 L521.0 312.3 L521.5 309.1 L522.0 305.6 L522.5 301.8 L523.0 297.4 L523.5 292.2 L524.0 286.2 L524.5 279.1 L525.0 270.8 L525.5 261.1 L526.0 250.0 L526.5 237.3 L527.0 223.0 L527.5 207.0 L528.0 189.6 L528.5 170.9 L529.0 151.4 L529.5 132.1 L530.0 114.1 L530.5 98.8 L531.0 87.8 L531.5 82.6 L532.0 83.4 L532.5 89.3 L533.0 99.5 L533.5 113.2 L534.0 129.4 L534.5 146.9 L535.0 165.0 L535.5 182.9 L536.0 200.1 L536.5 216.4 L537.0 231.5 L537.5 245.3 L538.0 257.9 L538.5 269.1 L539.0 279.1 L539.5 287.9 L540.0 295.6 L540.5 302.2 L541.0 307.8 L541.5 312.5 L542.0 316.4 L542.5 319.6 L543.0 322.4 L543.5 324.7 L544.0 326.8 L544.5 328.9 L545.0 331.0 L545.5 333.3 L546.0 335.7 L546.5 338.3 L547.0 341.0 L547.5 343.6 L548.0 346.2 L548.5 348.7 L549.0 350.9 L549.5 352.9 L550.0 354.6 L550.5 356.2 L551.0 357.6 L551.5 358.9 L552.0 360.2 L552.5 361.3 L553.0 362.4 L553.5 363.4 L554.0 364.4 L554.5 365.4 L555.0 366.3 L555.5 367.2 L556.0 368.0 L556.5 368.9 L557.0 369.7 L557.5 370.4 L558.0 371.2 L558.5 371.9 L559.0 372.6 L559.5 373.3 L560.0 374.0 L560.5 374.6 L561.0 375.2 L561.5 375.9 L562.0 376.5 L562.5 377.0 L563.0 377.6 L563.5 378.1 L564.0 378.6 L564.5 379.1 L565.0 379.5 L565.5 379.9 L566.0 380.3 L566.5 380.6 L567.0 381.0 L567.5 381.3 L568.0 381.7 L568.5 382.0 L569.0 382.2 L569.5 382.4 L570.0 382.6 L570.5 382.8 L571.0 383.0 L571.5 383.2 L572.0 383.4 L572.5 383.6 L573.0 383.7 L573.5 383.9 L574.0 384.0 L574.5 384.0 L575.0 384.2 L575.5 384.4 L576.0 384.7 L576.5 385.0 L577.0 385.3 L577.5 385.5 L578.0 385.8 L578.5 386.0 L579.0 386.3 L579.5 386.5 L580.0 386.6 L580.5 386.7 L581.0 386.9 L581.5 387.1 L582.0 387.3 L582.5 387.6 L583.0 387.9 L583.5 388.2 L584.0 388.6 L584.5 388.9 L585.0 389.1 L585.5 389.3 L586.0 389.3 L586.5 389.3 L587.0 389.3 L587.5 389.4 L588.0 389.4 L588.5 389.6 L589.0 389.8 L589.5 390.0 L590.0 390.3 L590.5 390.6 L591.0 390.7 L591.5 390.8 L592.0 390.8 L592.5 390.8 L593.0 390.7 L593.5 390.7 L594.0 390.7 L594.5 390.9 L595.0 391.1 L595.5 391.4 L596.0 391.6 L596.5 391.8 L597.0 391.9 L597.5 392.0 L598.0 392.1 L598.5 392.2 L599.0 392.3 L599.5 392.5 L600.0 392.6 L600.5 392.6 L601.0 392.7 L601.5 392.8 L602.0 392.9 L602.5 393.2 L603.0 393.5 L603.5 393.8 L604.0 394.0 L604.5 394.0 L605.0 393.9 L605.5 393.8 L606.0 393.7 L606.5 393.7 L607.0 393.6 L607.5 393.4 L608.0 393.2 L608.5 392.8 L609.0 392.4 L609.5 392.0 L610.0 391.6 L610.5 391.2 L611.0 390.8 L611.5 390.5 L612.0 390.1 L612.5 389.7 L613.0 389.4 L613.5 389.2 L614.0 389.0 L614.5 388.9 L615.0 388.9 L615.5 388.9 L616.0 388.9 L616.5 388.9 L617.0 388.9 L617.5 389.1 L618.0 389.3 L618.5 389.6 L619.0 389.9 L619.5 390.1 L620.0 390.4 L620.5 390.8 L621.0 391.1 L621.5 391.4 L622.0 391.8 L622.5 392.1 L623.0 392.5 L623.5 392.9 L624.0 393.3 L624.5 393.8 L625.0 394.3 L625.5 394.9 L626.0 395.7 L626.5 396.6 L627.0 397.7 L627.5 399.1 L628.0 400.8 L628.5 402.8 L629.0 404.9 L629.5 407.1 L630.0 409.2 L630.5 411.1 L631.0 412.9 L631.5 414.3 L632.0 415.5 L632.5 416.4 L633.0 417.2 L633.5 417.9 L634.0 418.4 L634.5 418.9 L635.0 419.3 L635.5 419.6 L636.0 419.4 L636.5 419.1 L637.0 418.4 L637.5 417.3 L638.0 415.7 L638.5 413.6 L639.0 411.2 L639.5 408.4 L640.0 405.6 L640.5 402.7 L641.0 399.8 L641.5 397.0 L642.0 394.2 L642.5 391.6 L643.0 389.1 L643.5 386.7 L644.0 384.6 L644.5 382.8 L645.0 381.4" stroke="#e0262e"/>
<path d="M73.0 384.3 L73.5 384.2 L74.0 384.0 L74.5 383.9 L75.0 383.7 L75.5 383.6 L76.0 383.5 L76.5 383.6 L77.0 383.7 L77.5 383.9 L78.0 384.0 L78.5 384.0 L79.0 383.9 L79.5 383.8 L80.0 383.7 L80.5 383.5 L81.0 383.3 L81.5 383.2 L82.0 383.2 L82.5 383.2 L83.0 383.3 L83.5 383.4 L84.0 383.5 L84.5 383.5 L85.0 383.5 L85.5 383.4 L86.0 383.3 L86.5 383.3 L87.0 383.3 L87.5 383.4 L88.0 383.4 L88.5 383.5 L89.0 383.6 L89.5 383.7 L90.0 383.9 L90.5 383.9 L91.0 383.7 L91.5 383.4 L92.0 383.0 L92.5 382.6 L93.0 382.2 L93.5 382.0 L94.0 381.9 L94.5 382.1 L95.0 382.3 L95.5 382.5 L96.0 382.7 L96.5 382.8 L97.0 382.7 L97.5 382.6 L98.0 382.4 L98.5 382.2 L99.0 382.1 L99.5 382.1 L100.0 382.2 L100.5 382.2 L101.0 382.3 L101.5 382.3 L102.0 382.3 L102.5 382.3 L103.0 382.3 L103.5 382.3 L104.0 382.3 L104.5 382.3 L105.0 382.2 L105.5 382.1 L106.0 382.0 L106.5 382.0 L107.0 382.0 L107.5 382.1 L108.0 382.3 L108.5 382.6 L109.0 382.8 L109.5 382.9 L110.0 382.7 L110.5 382.4 L111.0 382.1 L111.5 381.8 L112.0 381.5 L112.5 381.3 L113.0 381.2 L113.5 381.2 L114.0 381.3 L114.5 381.3 L115.0 381.3 L115.5 381.3 L116.0 381.2 L116.5 381.2 L117.0 381.1 L117.5 381.2 L118.0 381.2 L118.5 381.4 L119.0 381.6 L119.5 381.9 L120.0 382.1 L120.5 382.2 L121.0 382.3 L121.5 382.5 L122.0 382.6 L122.5 382.8 L123.0 382.9 L123.5 382.9 L124.0 382.7 L124.5 382.6 L125.0 382.5 L125.5 382.6 L126.0 382.6 L126.5 382.7 L127.0 382.7 L127.5 382.6 L128.0 382.6 L128.5 382.6 L129.0 382.6 L129.5 382.6 L130.0 382.4 L130.5 382.3 L131.0 382.3 L131.5 382.3 L132.0 382.4 L132.5 382.4 L133.0 382.3 L133.5 382.1 L134.0 381.8 L134.5 381.5 L135.0 381.4 L135.5 381.5 L136.0 381.7 L136.5 382.0 L137.0 382.2 L137.5 382.3 L138.0 382.4 L138.5 382.4 L139.0 382.5 L139.5 382.6 L140.0 382.6 L140.5 382.7 L141.0 382.7 L141.5 382.6 L142.0 382.5 L142.5 382.3 L143.0 382.2 L143.5 382.0 L144.0 381.9 L144.5 381.9 L145.0 382.0 L145.5 382.0 L146.0 381.9 L146.5 381.8 L147.0 381.8 L147.5 381.8 L148.0 381.9 L148.5 382.0 L149.0 382.2 L149.5 382.4 L150.0 382.5 L150.5 382.6 L151.0 382.7 L151.5 382.7 L152.0 382.7 L152.5 382.7 L153.0 382.6 L153.5 382.4 L154.0 382.3 L154.5 382.2 L155.0 382.2 L155.5 382.3 L156.0 382.4 L156.5 382.4 L157.0 382.5 L157.5 382.5 L158.0 382.6 L158.5 382.6 L159.0 382.5 L159.5 382.4 L160.0 382.4 L160.5 382.4 L161.0 382.6 L161.5 382.8 L162.0 383.0 L162.5 383.0 L163.0 383.0 L163.5 383.0 L164.0 383.0 L164.5 383.1 L165.0 383.2 L165.5 383.2 L166.0 383.1 L166.5 382.8 L167.0 382.5 L167.5 382.2 L168.0 382.0 L168.5 382.0 L169.0 382.0 L169.5 382.1 L170.0 382.3 L170.5 382.3 L171.0 382.3 L171.5 382.1 L172.0 381.9 L172.5 381.7 L173.0 381.6 L173.5 381.5 L174.0 381.5 L174.5 381.6 L175.0 381.7 L175.5 381.9 L176.0 382.0 L176.5 382.2 L177.0 382.3 L177.5 382.3 L178.0 382.2 L178.5 382.0 L179.0 381.8 L179.5 381.6 L180.0 381.5 L180.5 381.5 L181.0 381.7 L181.5 381.8 L182.0 381.8 L182.5 381.7 L183.0 381.5 L183.5 381.4 L184.0 381.4 L184.5 381.4 L185.0 381.5 L185.5 381.5 L186.0 381.5 L186.5 381.4 L187.0 381.4 L187.5 381.4 L188.0 381.5 L188.5 381.5 L189.0 381.5 L189.5 381.5 L190.0 381.5 L190.5 381.6 L191.0 381.8 L191.5 382.0 L192.0 382.2 L192.5 382.2 L193.0 382.1 L193.5 382.0 L194.0 381.8 L194.5 381.5 L195.0 381.3 L195.5 381.1 L196.0 381.0 L196.5 381.0 L197.0 381.1 L197.5 381.1 L198.0 381.2 L198.5 381.3 L199.0 381.3 L199.5 381.4 L200.0 381.6 L200.5 381.8 L201.0 382.0 L201.5 382.2 L202.0 382.1 L202.5 382.0 L203.0 381.8 L203.5 381.6 L204.0 381.5 L204.5 381.5 L205.0 381.6 L205.5 381.7 L206.0 381.9 L206.5 382.0 L207.0 382.0 L207.5 381.9 L208.0 381.7 L208.5 381.5 L209.0 381.4 L209.5 381.2 L210.0 381.1 L210.5 380.9 L211.0 380.9 L211.5 380.8 L212.0 380.8 L212.5 380.7 L213.0 380.6 L213.5 380.4 L214.0 380.1 L214.5 379.8 L215.0 379.4 L215.5 379.1 L216.0 378.8 L216.5 378.6 L217.0 378.4 L217.5 378.3 L218.0 378.1 L218.5 378.0 L219.0 377.9 L219.5 377.7 L220.0 377.5 L220.5 377.2 L221.0 376.9 L221.5 376.7 L222.0 376.8 L222.5 377.0 L223.0 377.4 L223.5 377.6 L224.0 377.8 L224.5 377.8 L225.0 377.8 L225.5 377.8 L226.0 377.8 L226.5 377.8 L227.0 377.7 L227.5 377.8 L228.0 377.9 L228.5 378.0 L229.0 378.1 L229.5 378.2 L230.0 378.4 L230.5 378.6 L231.0 378.9 L231.5 379.1 L232.0 379.3 L232.5 379.5 L233.0 379.6 L233.5 379.6 L234.0 379.6 L234.5 379.6 L235.0 379.7 L235.5 379.8 L236.0 379.9 L236.5 380.0 L237.0 379.9 L237.5 379.8 L238.0 379.7 L238.5 379.7 L239.0 379.8 L239.5 380.0 L240.0 380.3 L240.5 380.5 L241.0 380.6 L241.5 380.5 L242.0 380.3 L242.5 380.1 L243.0 380.1 L243.5 380.3 L244.0 380.5 L244.5 380.6 L245.0 380.8 L245.5 380.8 L246.0 381.0 L246.5 381.1 L247.0 381.3 L247.5 381.5 L248.0 381.7 L248.5 381.8 L249.0 381.9 L249.5 381.8 L250.0 381.7 L250.5 381.6 L251.0 381.6 L251.5 381.6 L252.0 381.7 L252.5 381.8 L253.0 381.8 L253.5 381.8 L254.0 381.8 L254.5 381.8 L255.0 381.8 L255.5 381.8 L256.0 381.8 L256.5 381.8 L257.0 381.9 L257.5 382.0 L258.0 382.1 L258.5 382.3 L259.0 382.4 L259.5 382.4 L260.0 382.4 L260.5 382.5 L261.0 382.5 L261.5 382.5 L262.0 382.5 L262.5 382.4 L263.0 382.3 L263.5 382.2 L264.0 382.1 L264.5 381.9 L265.0 381.6 L265.5 381.4 L266.0 381.3 L266.5 381.3 L267.0 381.4 L267.5 381.4 L268.0 381.4 L268.5 381.4 L269.0 381.3 L269.5 381.4 L270.0 381.5 L270.5 381.7 L271.0 382.0 L271.5 382.3 L272.0 382.5 L272.5 382.6 L273.0 382.5 L273.5 382.4 L274.0 382.3 L274.5 382.1 L275.0 382.1 L275.5 382.1 L276.0 382.2 L276.5 382.2 L277.0 382.1 L277.5 381.8 L278.0 381.4 L278.5 381.1 L279.0 380.9 L279.5 380.8 L280.0 380.9 L280.5 380.9 L281.0 381.0 L281.5 381.1 L282.0 381.1 L282.5 381.1 L283.0 381.1 L283.5 381.0 L284.0 380.9 L284.5 380.8 L285.0 380.8 L285.5 380.7 L286.0 380.6 L286.5 380.4 L287.0 380.3 L287.5 380.2 L288.0 380.2 L288.5 380.2 L289.0 380.2 L289.5 380.2 L290.0 380.2 L290.5 380.2 L291.0 380.2 L291.5 380.2 L292.0 380.3 L292.5 380.4 L293.0 380.4 L293.5 380.3 L294.0 380.1 L294.5 379.8 L295.0 379.5 L295.5 379.2 L296.0 378.8 L296.5 378.4 L297.0 377.9 L297.5 377.3 L298.0 376.7 L298.5 376.0 L299.0 375.1 L299.5 374.2 L300.0 373.1 L300.5 372.0 L301.0 370.8 L301.5 369.7 L302.0 368.6 L302.5 367.6 L303.0 366.6 L303.5 365.6 L304.0 364.6 L304.5 363.3 L305.0 361.6 L305.5 359.4 L306.0 356.5 L306.5 352.9 L307.0 348.5 L307.5 343.3 L308.0 337.3 L308.5 330.4 L309.0 322.9 L309.5 314.7 L310.0 305.8 L310.5 296.5 L311.0 286.8 L311.5 276.9 L312.0 266.9 L312.5 257.0 L313.0 247.4 L313.5 238.3 L314.0 229.9 L314.5 222.3 L315.0 215.8 L315.5 210.4 L316.0 206.4 L316.5 203.8 L317.0 202.6 L317.5 202.7 L318.0 204.1 L318.5 206.7 L319.0 210.4 L319.5 215.2 L320.0 220.9 L320.5 227.3 L321.0 234.5 L321.5 242.1 L322.0 250.1 L322.5 258.3 L323.0 266.5 L323.5 274.7 L324.0 282.7 L324.5 290.4 L325.0 297.8 L325.5 304.8 L326.0 311.3 L326.5 317.3 L327.0 322.8 L327.5 327.9 L328.0 332.5 L328.5 336.7 L329.0 340.5 L329.5 343.9 L330.0 347.0 L330.5 349.8 L331.0 352.3 L331.5 354.6 L332.0 356.7 L332.5 358.7 L333.0 360.5 L333.5 362.2 L334.0 363.9 L334.5 365.3 L335.0 366.7 L335.5 367.9 L336.0 369.0 L336.5 370.0 L337.0 370.8 L337.5 371.5 L338.0 372.2 L338.5 372.8 L339.0 373.3 L339.5 373.8 L340.0 374.1 L340.5 374.4 L341.0 374.6 L341.5 374.6 L342.0 374.6 L342.5 374.6 L343.0 374.7 L343.5 374.7 L344.0 374.8 L344.5 374.9 L345.0 375.0 L345.5 374.9 L346.0 374.7 L346.5 374.5 L347.0 374.2 L347.5 373.9 L348.0 373.5 L348.5 373.1 L349.0 372.7 L349.5 372.2 L350.0 371.7 L350.5 371.2 L351.0 370.7 L351.5 370.1 L352.0 369.5 L352.5 368.9 L353.0 368.3 L353.5 367.7 L354.0 367.1 L354.5 366.6 L355.0 366.1 L355.5 365.7 L356.0 365.4 L356.5 365.2 L357.0 365.0 L357.5 365.0 L358.0 365.1 L358.5 365.3 L359.0 365.6 L359.5 365.9 L360.0 366.3 L360.5 366.7 L361.0 367.2 L361.5 367.6 L362.0 368.1 L362.5 368.5 L363.0 368.9 L363.5 369.4 L364.0 369.8 L364.5 370.2 L365.0 370.6 L365.5 371.1 L366.0 371.5 L366.5 371.9 L367.0 372.3 L367.5 372.7 L368.0 373.1 L368.5 373.5 L369.0 373.9 L369.5 374.3 L370.0 374.7 L370.5 375.0 L371.0 375.4 L371.5 375.8 L372.0 376.2 L372.5 376.7 L373.0 377.1 L373.5 377.4 L374.0 377.8 L374.5 378.0 L375.0 378.1 L375.5 378.1 L376.0 377.9 L376.5 377.7 L377.0 377.6 L377.5 377.6 L378.0 377.8 L378.5 378.1 L379.0 378.3 L379.5 378.5 L380.0 378.7 L380.5 378.8 L381.0 378.8 L381.5 378.7 L382.0 378.6 L382.5 378.5 L383.0 378.4 L383.5 378.5 L384.0 378.7 L384.5 379.0 L385.0 379.2 L385.5 379.5 L386.0 379.6 L386.5 379.8 L387.0 380.0 L387.5 380.3 L388.0 380.5 L388.5 380.7 L389.0 380.7 L389.5 380.5 L390.0 380.3 L390.5 380.1 L391.0 379.9 L391.5 379.7 L392.0 379.5 L392.5 379.4 L393.0 379.3 L393.5 379.3 L394.0 379.5 L394.5 379.8 L395.0 380.3 L395.5 380.6 L396.0 380.8 L396.5 380.8 L397.0 380.8 L397.5 380.7 L398.0 380.8 L398.5 381.0 L399.0 381.1 L399.5 381.0 L400.0 380.8 L400.5 380.5 L401.0 380.2 L401.5 380.0 L402.0 379.8 L402.5 379.8 L403.0 379.9 L403.5 380.0 L404.0 380.1 L404.5 380.2 L405.0 380.4 L405.5 380.6 L406.0 380.9 L406.5 381.0 L407.0 381.1 L407.5 381.2 L408.0 381.3 L408.5 381.2 L409.0 381.0 L409.5 380.8 L410.0 380.6 L410.5 380.4 L411.0 380.3 L411.5 380.1 L412.0 380.0 L412.5 380.0 L413.0 380.0 L413.5 380.0 L414.0 380.0 L414.5 379.9 L415.0 379.8 L415.5 379.7 L416.0 379.6 L416.5 379.7 L417.0 379.8 L417.5 379.9 L418.0 380.1 L418.5 380.2 L419.0 380.2 L419.5 380.2 L420.0 380.1 L420.5 380.0 L421.0 379.9 L421.5 379.8 L422.0 379.8 L422.5 379.9 L423.0 380.0 L423.5 380.2 L424.0 380.4 L424.5 380.5 L425.0 380.5 L425.5 380.6 L426.0 380.7 L426.5 380.9 L427.0 380.9 L427.5 380.9 L428.0 380.9 L428.5 380.9 L429.0 381.0 L429.5 381.2 L430.0 381.5 L430.5 381.6 L431.0 381.5 L431.5 381.3 L432.0 381.0 L432.5 380.9 L433.0 380.9 L433.5 381.1 L434.0 381.3 L434.5 381.4 L435.0 381.4 L435.5 381.2 L436.0 380.9 L436.5 380.6 L437.0 380.2 L437.5 379.8 L438.0 379.5 L438.5 379.3 L439.0 379.2 L439.5 379.4 L440.0 379.5 L440.5 379.8 L441.0 380.1 L441.5 380.3 L442.0 380.6 L442.5 380.7 L443.0 380.5 L443.5 380.3 L444.0 380.1 L444.5 379.9 L445.0 379.8 L445.5 379.6 L446.0 379.5 L446.5 379.3 L447.0 379.2 L447.5 379.1 L448.0 379.1 L448.5 379.0 L449.0 379.0 L449.5 378.9 L450.0 378.7 L450.5 378.6 L451.0 378.5 L451.5 378.4 L452.0 378.3 L452.5 378.2 L453.0 378.0 L453.5 377.8 L454.0 377.5 L454.5 377.2 L455.0 376.7 L455.5 376.1 L456.0 375.3 L456.5 374.4 L457.0 373.2 L457.5 371.7 L458.0 370.0 L458.5 367.8 L459.0 365.4 L459.5 362.5 L460.0 359.1 L460.5 355.4 L461.0 351.2 L461.5 346.6 L462.0 341.6 L462.5 336.1 L463.0 330.2 L463.5 324.0 L464.0 317.5 L464.5 310.7 L465.0 303.8 L465.5 296.8 L466.0 289.9 L466.5 283.0 L467.0 276.5 L467.5 270.3 L468.0 264.7 L468.5 259.6 L469.0 255.3 L469.5 251.7 L470.0 249.1 L470.5 247.3 L471.0 246.5 L471.5 246.4 L472.0 246.9 L472.5 248.1 L473.0 249.9 L473.5 252.3 L474.0 255.2 L474.5 258.6 L475.0 262.4 L475.5 266.6 L476.0 271.0 L476.5 275.7 L477.0 280.6 L477.5 285.5 L478.0 290.5 L478.5 295.5 L479.0 300.5 L479.5 305.3 L480.0 310.0 L480.5 314.5 L481.0 318.9 L481.5 323.0 L482.0 326.9 L482.5 330.5 L483.0 334.0 L483.5 337.1 L484.0 340.0 L484.5 342.7 L485.0 345.2 L485.5 347.4 L486.0 349.4 L486.5 351.2 L487.0 352.8 L487.5 354.3 L488.0 355.6 L488.5 356.8 L489.0 357.9 L489.5 358.9 L490.0 359.7 L490.5 360.5 L491.0 361.3 L491.5 362.0 L492.0 362.6 L492.5 363.1 L493.0 363.6 L493.5 364.1 L494.0 364.5 L494.5 364.9 L495.0 365.1 L495.5 364.9 L496.0 364.6 L496.5 364.2 L497.0 363.9 L497.5 363.5 L498.0 363.1 L498.5 362.7 L499.0 362.2 L499.5 361.7 L500.0 361.2 L500.5 360.7 L501.0 360.1 L501.5 359.6 L502.0 359.1 L502.5 358.7 L503.0 358.3 L503.5 358.0 L504.0 357.9 L504.5 358.1 L505.0 358.2 L505.5 358.3 L506.0 358.4 L506.5 358.6 L507.0 358.8 L507.5 359.1 L508.0 359.5 L508.5 359.9 L509.0 360.2 L509.5 360.4 L510.0 360.6 L510.5 360.7 L511.0 360.9 L511.5 361.2 L512.0 361.1 L512.5 360.9 L513.0 360.5 L513.5 360.1 L514.0 359.7 L514.5 359.1 L515.0 358.6 L515.5 358.0 L516.0 357.2 L516.5 356.3 L517.0 355.2 L517.5 353.8 L518.0 352.2 L518.5 350.2 L519.0 348.0 L519.5 345.4 L520.0 342.5 L520.5 339.4 L521.0 336.0 L521.5 332.5 L522.0 329.0 L522.5 325.5 L523.0 322.1 L523.5 318.9 L524.0 315.6 L524.5 312.2 L525.0 308.4 L525.5 304.2 L526.0 299.3 L526.5 293.5 L527.0 286.6 L527.5 278.4 L528.0 268.7 L528.5 257.2 L529.0 243.6 L529.5 227.8 L530.0 209.7 L530.5 189.5 L531.0 167.7 L531.5 145.4 L532.0 124.7 L532.5 107.9 L533.0 98.1 L533.5 97.3 L534.0 107.8 L534.5 127.5 L535.0 152.0 L535.5 177.7 L536.0 202.0 L536.5 223.7 L537.0 242.3 L537.5 257.9 L538.0 270.7 L538.5 281.1 L539.0 289.5 L539.5 296.2 L540.0 301.7 L540.5 306.3 L541.0 310.2 L541.5 313.6 L542.0 316.8 L542.5 319.7 L543.0 322.5 L543.5 325.4 L544.0 328.3 L544.5 331.3 L545.0 334.5 L545.5 337.9 L546.0 341.3 L546.5 344.6 L547.0 347.7 L547.5 350.5 L548.0 353.0 L548.5 355.2 L549.0 357.2 L549.5 359.0 L550.0 360.7 L550.5 362.2 L551.0 363.7 L551.5 365.0 L552.0 366.4 L552.5 367.6 L553.0 368.8 L553.5 370.0 L554.0 371.1 L554.5 372.2 L555.0 373.3 L555.5 374.3 L556.0 375.3 L556.5 376.2 L557.0 377.1 L557.5 378.0 L558.0 378.8 L558.5 379.5 L559.0 380.2 L559.5 380.9 L560.0 381.5 L560.5 382.1 L561.0 382.7 L561.5 383.2 L562.0 383.7 L562.5 384.2 L563.0 384.6 L563.5 385.0 L564.0 385.5 L564.5 385.9 L565.0 386.3 L565.5 386.7 L566.0 387.0 L566.5 387.4 L567.0 387.8 L567.5 388.1 L568.0 388.4 L568.5 388.7 L569.0 389.0 L569.5 389.2 L570.0 389.4 L570.5 389.7 L571.0 389.9 L571.5 390.2 L572.0 390.4 L572.5 390.7 L573.0 390.9 L573.5 391.0 L574.0 391.2 L574.5 391.5 L575.0 391.8 L575.5 392.2 L576.0 392.5 L576.5 392.8 L577.0 392.9 L577.5 393.0 L578.0 393.0 L578.5 393.1 L579.0 393.1 L579.5 393.2 L580.0 393.4 L580.5 393.6 L581.0 394.0 L581.5 394.3 L582.0 394.7 L582.5 395.0 L583.0 395.2 L583.5 395.4 L584.0 395.5 L584.5 395.7 L585.0 395.8 L585.5 395.9 L586.0 396.0 L586.5 396.3 L587.0 396.5 L587.5 396.9 L588.0 397.2 L588.5 397.5 L589.0 397.7 L589.5 397.8 L590.0 397.8 L590.5 397.8 L591.0 397.8 L591.5 397.8 L592.0 397.9 L592.5 398.0 L593.0 398.2 L593.5 398.4 L594.0 398.7 L594.5 399.0 L595.0 399.3 L595.5 399.5 L596.0 399.8 L596.5 400.0 L597.0 400.1 L597.5 400.3 L598.0 400.4 L598.5 400.6 L599.0 400.9 L599.5 401.2 L600.0 401.5 L600.5 401.8 L601.0 402.1 L601.5 402.4 L602.0 402.7 L602.5 403.0 L603.0 403.3 L603.5 403.6 L604.0 403.9 L604.5 404.1 L605.0 404.4 L605.5 404.7 L606.0 404.9 L606.5 404.9 L607.0 404.8 L607.5 404.7 L608.0 404.5 L608.5 404.3 L609.0 404.1 L609.5 403.8 L610.0 403.5 L610.5 403.1 L611.0 402.6 L611.5 402.2 L612.0 401.6 L612.5 401.0 L613.0 400.3 L613.5 399.6 L614.0 398.9 L614.5 398.3 L615.0 397.9 L615.5 397.7 L616.0 397.6 L616.5 397.4 L617.0 397.5 L617.5 397.7 L618.0 398.0 L618.5 398.3 L619.0 398.6 L619.5 399.0 L620.0 399.3 L620.5 399.7 L621.0 400.0 L621.5 400.4 L622.0 400.8 L622.5 401.2 L623.0 401.8 L623.5 402.4 L624.0 403.2 L624.5 404.1 L625.0 405.1 L625.5 406.3 L626.0 407.5 L626.5 408.7 L627.0 409.8 L627.5 410.9 L628.0 411.8 L628.5 412.7 L629.0 413.5 L629.5 414.3 L630.0 415.0 L630.5 415.6 L631.0 416.3 L631.5 416.8 L632.0 417.4 L632.5 417.9 L633.0 418.4 L633.5 418.8 L634.0 419.2 L634.5 419.6 L635.0 419.9 L635.5 420.3 L636.0 420.2 L636.5 419.6 L637.0 419.1 L637.5 418.3 L638.0 417.1 L638.5 415.6 L639.0 413.8 L639.5 411.8 L640.0 409.5 L640.5 407.2 L641.0 405.0 L641.5 402.7 L642.0 400.5 L642.5 398.5 L643.0 396.5 L643.5 394.6 L644.0 392.9 L644.5 391.5 L645.0 390.4" stroke="#3358b8"/>
<path d="M73.0 376.7 L73.5 376.9 L74.0 377.0 L74.5 377.1 L75.0 377.1 L75.5 377.0 L76.0 377.0 L76.5 376.9 L77.0 376.8 L77.5 376.7 L78.0 376.6 L78.5 376.5 L79.0 376.5 L79.5 376.5 L80.0 376.4 L80.5 376.3 L81.0 376.2 L81.5 376.2 L82.0 376.3 L82.5 376.4 L83.0 376.6 L83.5 376.8 L84.0 377.0 L84.5 377.3 L85.0 377.5 L85.5 377.7 L86.0 377.6 L86.5 377.3 L87.0 376.9 L87.5 376.4 L88.0 376.0 L88.5 375.9 L89.0 376.1 L89.5 376.3 L90.0 376.6 L90.5 376.9 L91.0 376.9 L91.5 376.7 L92.0 376.4 L92.5 375.9 L93.0 375.6 L93.5 375.4 L94.0 375.4 L94.5 375.5 L95.0 375.7 L95.5 375.8 L96.0 375.8 L96.5 375.7 L97.0 375.6 L97.5 375.6 L98.0 375.8 L98.5 376.1 L99.0 376.4 L99.5 376.5 L100.0 376.6 L100.5 376.6 L101.0 376.6 L101.5 376.5 L102.0 376.3 L102.5 376.2 L103.0 376.1 L103.5 376.1 L104.0 376.1 L104.5 376.2 L105.0 376.3 L105.5 376.4 L106.0 376.6 L106.5 376.7 L107.0 376.8 L107.5 376.8 L108.0 376.9 L108.5 377.0 L109.0 377.0 L109.5 377.0 L110.0 376.9 L110.5 376.8 L111.0 376.7 L111.5 376.5 L112.0 376.2 L112.5 376.1 L113.0 376.2 L113.5 376.4 L114.0 376.6 L114.5 376.8 L115.0 376.9 L115.5 377.0 L116.0 377.0 L116.5 377.0 L117.0 376.9 L117.5 376.6 L118.0 376.3 L118.5 376.1 L119.0 375.9 L119.5 375.8 L120.0 375.8 L120.5 375.8 L121.0 375.9 L121.5 376.0 L122.0 376.3 L122.5 376.5 L123.0 376.6 L123.5 376.6 L124.0 376.5 L124.5 376.3 L125.0 376.3 L125.5 376.3 L126.0 376.5 L126.5 376.6 L127.0 376.7 L127.5 376.6 L128.0 376.5 L128.5 376.5 L129.0 376.5 L129.5 376.7 L130.0 376.9 L130.5 377.2 L131.0 377.5 L131.5 377.7 L132.0 377.7 L132.5 377.6 L133.0 377.3 L133.5 376.8 L134.0 376.2 L134.5 375.7 L135.0 375.4 L135.5 375.3 L136.0 375.5 L136.5 375.8 L137.0 376.1 L137.5 376.2 L138.0 376.1 L138.5 376.0 L139.0 376.0 L139.5 376.0 L140.0 376.2 L140.5 376.3 L141.0 376.3 L141.5 376.1 L142.0 375.9 L142.5 375.8 L143.0 375.7 L143.5 375.7 L144.0 375.8 L144.5 375.9 L145.0 376.0 L145.5 376.1 L146.0 376.3 L146.5 376.5 L147.0 376.6 L147.5 376.8 L148.0 376.9 L148.5 376.9 L149.0 377.0 L149.5 377.0 L150.0 376.9 L150.5 376.8 L151.0 376.7 L151.5 376.6 L152.0 376.3 L152.5 376.1 L153.0 376.0 L153.5 375.9 L154.0 375.8 L154.5 375.9 L155.0 376.0 L155.5 376.1 L156.0 376.2 L156.5 376.2 L157.0 376.2 L157.5 376.0 L158.0 375.7 L158.5 375.5 L159.0 375.5 L159.5 375.6 L160.0 375.8 L160.5 376.0 L161.0 376.2 L161.5 376.5 L162.0 376.7 L162.5 376.9 L163.0 377.0 L163.5 377.0 L164.0 376.9 L164.5 376.7 L165.0 376.5 L165.5 376.3 L166.0 376.3 L166.5 376.3 L167.0 376.4 L167.5 376.3 L168.0 376.2 L168.5 375.9 L169.0 375.5 L169.5 375.1 L170.0 374.6 L170.5 374.3 L171.0 373.9 L171.5 373.7 L172.0 373.5 L172.5 373.5 L173.0 373.6 L173.5 373.8 L174.0 374.1 L174.5 374.4 L175.0 374.7 L175.5 374.9 L176.0 375.1 L176.5 375.3 L177.0 375.4 L177.5 375.6 L178.0 375.7 L178.5 375.8 L179.0 376.0 L179.5 376.1 L180.0 376.2 L180.5 376.3 L181.0 376.3 L181.5 376.3 L182.0 376.2 L182.5 376.1 L183.0 375.9 L183.5 375.8 L184.0 375.8 L184.5 375.8 L185.0 375.9 L185.5 375.9 L186.0 375.7 L186.5 375.4 L187.0 375.2 L187.5 375.2 L188.0 375.3 L188.5 375.4 L189.0 375.5 L189.5 375.4 L190.0 375.2 L190.5 375.0 L191.0 374.9 L191.5 374.8 L192.0 374.8 L192.5 374.9 L193.0 374.9 L193.5 374.9 L194.0 374.9 L194.5 374.7 L195.0 374.5 L195.5 374.4 L196.0 374.4 L196.5 374.6 L197.0 374.8 L197.5 374.9 L198.0 375.0 L198.5 375.0 L199.0 375.0 L199.5 374.8 L200.0 374.7 L200.5 374.6 L201.0 374.5 L201.5 374.4 L202.0 374.2 L202.5 373.9 L203.0 373.5 L203.5 373.1 L204.0 373.0 L204.5 373.1 L205.0 373.5 L205.5 373.9 L206.0 374.3 L206.5 374.7 L207.0 374.9 L207.5 375.1 L208.0 375.2 L208.5 375.1 L209.0 375.0 L209.5 374.8 L210.0 374.5 L210.5 374.3 L211.0 374.1 L211.5 373.9 L212.0 373.7 L212.5 373.4 L213.0 373.1 L213.5 372.9 L214.0 372.7 L214.5 372.6 L215.0 372.4 L215.5 372.3 L216.0 372.0 L216.5 371.8 L217.0 371.6 L217.5 371.4 L218.0 371.2 L218.5 371.1 L219.0 370.9 L219.5 370.8 L220.0 370.6 L220.5 370.5 L221.0 370.3 L221.5 370.1 L222.0 369.8 L222.5 369.5 L223.0 369.2 L223.5 369.2 L224.0 369.4 L224.5 369.7 L225.0 370.0 L225.5 370.3 L226.0 370.5 L226.5 370.8 L227.0 371.0 L227.5 371.3 L228.0 371.5 L228.5 371.8 L229.0 372.1 L229.5 372.2 L230.0 372.4 L230.5 372.6 L231.0 372.8 L231.5 373.0 L232.0 373.2 L232.5 373.4 L233.0 373.6 L233.5 373.8 L234.0 373.9 L234.5 374.0 L235.0 374.2 L235.5 374.3 L236.0 374.5 L236.5 374.6 L237.0 374.7 L237.5 374.7 L238.0 374.7 L238.5 374.6 L239.0 374.5 L239.5 374.4 L240.0 374.4 L240.5 374.6 L241.0 374.7 L241.5 374.8 L242.0 374.9 L242.5 375.0 L243.0 375.0 L243.5 375.0 L244.0 374.8 L244.5 374.6 L245.0 374.3 L245.5 374.2 L246.0 374.2 L246.5 374.4 L247.0 374.7 L247.5 375.0 L248.0 375.1 L248.5 375.0 L249.0 374.9 L249.5 374.9 L250.0 375.1 L250.5 375.3 L251.0 375.5 L251.5 375.6 L252.0 375.4 L252.5 375.0 L253.0 374.5 L253.5 374.2 L254.0 374.0 L254.5 374.1 L255.0 374.4 L255.5 374.7 L256.0 375.0 L256.5 375.0 L257.0 374.9 L257.5 374.8 L258.0 374.7 L258.5 374.6 L259.0 374.6 L259.5 374.7 L260.0 374.8 L260.5 374.9 L261.0 375.0 L261.5 375.0 L262.0 374.9 L262.5 374.9 L263.0 374.8 L263.5 374.7 L264.0 374.8 L264.5 375.0 L265.0 375.2 L265.5 375.4 L266.0 375.6 L266.5 375.7 L267.0 375.7 L267.5 375.8 L268.0 375.9 L268.5 375.9 L269.0 375.9 L269.5 375.9 L270.0 375.9 L270.5 375.9 L271.0 375.9 L271.5 375.9 L272.0 375.8 L272.5 375.8 L273.0 375.7 L273.5 375.7 L274.0 375.7 L274.5 375.7 L275.0 375.8 L275.5 375.8 L276.0 375.9 L276.5 375.9 L277.0 375.9 L277.5 375.8 L278.0 375.6 L278.5 375.4 L279.0 375.1 L279.5 374.9 L280.0 374.7 L280.5 374.5 L281.0 374.3 L281.5 374.3 L282.0 374.2 L282.5 374.3 L283.0 374.4 L283.5 374.5 L284.0 374.8 L284.5 375.1 L285.0 375.2 L285.5 375.2 L286.0 375.0 L286.5 374.6 L287.0 374.2 L287.5 373.9 L288.0 373.7 L288.5 373.6 L289.0 373.6 L289.5 373.7 L290.0 373.8 L290.5 374.0 L291.0 374.3 L291.5 374.5 L292.0 374.7 L292.5 374.8 L293.0 374.9 L293.5 374.9 L294.0 374.8 L294.5 374.4 L295.0 374.0 L295.5 373.7 L296.0 373.4 L296.5 373.3 L297.0 373.2 L297.5 373.2 L298.0 373.0 L298.5 372.8 L299.0 372.5 L299.5 372.1 L300.0 371.7 L300.5 371.2 L301.0 370.6 L301.5 370.0 L302.0 369.3 L302.5 368.4 L303.0 367.4 L303.5 366.2 L304.0 364.8 L304.5 363.1 L305.0 361.0 L305.5 358.6 L306.0 355.8 L306.5 352.5 L307.0 348.6 L307.5 344.2 L308.0 339.2 L308.5 333.6 L309.0 327.4 L309.5 320.6 L310.0 313.3 L310.5 305.4 L311.0 297.2 L311.5 288.6 L312.0 279.9 L312.5 271.1 L313.0 262.4 L313.5 254.0 L314.0 246.1 L314.5 238.8 L315.0 232.4 L315.5 226.8 L316.0 222.4 L316.5 219.2 L317.0 217.2 L317.5 215.9 L318.0 217.1 L318.5 218.7 L319.0 221.3 L319.5 224.8 L320.0 229.3 L320.5 234.5 L321.0 240.4 L321.5 246.8 L322.0 253.6 L322.5 260.7 L323.0 267.9 L323.5 275.2 L324.0 282.4 L324.5 289.3 L325.0 296.1 L325.5 302.5 L326.0 308.5 L326.5 314.1 L327.0 319.2 L327.5 324.0 L328.0 328.4 L328.5 332.4 L329.0 336.1 L329.5 339.5 L330.0 342.7 L330.5 345.6 L331.0 348.2 L331.5 350.7 L332.0 352.9 L332.5 355.0 L333.0 356.9 L333.5 358.6 L334.0 360.2 L334.5 361.6 L335.0 362.9 L335.5 364.0 L336.0 364.9 L336.5 365.7 L337.0 366.4 L337.5 367.0 L338.0 367.6 L338.5 368.0 L339.0 368.5 L339.5 368.9 L340.0 369.3 L340.5 369.7 L341.0 370.1 L341.5 370.4 L342.0 370.7 L342.5 370.6 L343.0 370.4 L343.5 370.0 L344.0 369.7 L344.5 369.4 L345.0 369.1 L345.5 368.8 L346.0 368.5 L346.5 368.1 L347.0 367.8 L347.5 367.4 L348.0 367.1 L348.5 366.7 L349.0 366.3 L349.5 365.9 L350.0 365.5 L350.5 365.0 L351.0 364.5 L351.5 363.9 L352.0 363.4 L352.5 362.8 L353.0 362.3 L353.5 361.7 L354.0 361.2 L354.5 360.7 L355.0 360.3 L355.5 360.0 L356.0 359.7 L356.5 359.4 L357.0 359.1 L357.5 359.0 L358.0 359.2 L358.5 359.5 L359.0 359.8 L359.5 360.2 L360.0 360.5 L360.5 360.9 L361.0 361.3 L361.5 361.7 L362.0 362.1 L362.5 362.5 L363.0 363.0 L363.5 363.4 L364.0 363.8 L364.5 364.2 L365.0 364.6 L365.5 365.0 L366.0 365.4 L366.5 365.8 L367.0 366.2 L367.5 366.6 L368.0 367.1 L368.5 367.6 L369.0 368.0 L369.5 368.3 L370.0 368.6 L370.5 368.9 L371.0 369.1 L371.5 369.3 L372.0 369.6 L372.5 369.8 L373.0 370.0 L373.5 370.1 L374.0 370.1 L374.5 369.9 L375.0 369.7 L375.5 369.4 L376.0 369.2 L376.5 369.0 L377.0 368.9 L377.5 368.7 L378.0 368.5 L378.5 368.3 L379.0 368.1 L379.5 367.8 L380.0 367.6 L380.5 367.3 L381.0 367.2 L381.5 367.3 L382.0 367.4 L382.5 367.6 L383.0 367.7 L383.5 367.9 L384.0 368.2 L384.5 368.5 L385.0 368.8 L385.5 369.2 L386.0 369.5 L386.5 369.9 L387.0 370.2 L387.5 370.6 L388.0 371.0 L388.5 371.4 L389.0 371.8 L389.5 372.1 L390.0 372.5 L390.5 372.8 L391.0 373.0 L391.5 373.2 L392.0 373.4 L392.5 373.7 L393.0 373.9 L393.5 374.1 L394.0 374.1 L394.5 373.9 L395.0 373.6 L395.5 373.5 L396.0 373.6 L396.5 373.8 L397.0 374.1 L397.5 374.4 L398.0 374.6 L398.5 374.7 L399.0 374.7 L399.5 374.8 L400.0 375.0 L400.5 375.2 L401.0 375.4 L401.5 375.4 L402.0 375.4 L402.5 375.1 L403.0 374.8 L403.5 374.5 L404.0 374.3 L404.5 374.3 L405.0 374.3 L405.5 374.5 L406.0 374.8 L406.5 375.1 L407.0 375.4 L407.5 375.6 L408.0 375.6 L408.5 375.4 L409.0 375.1 L409.5 374.8 L410.0 374.6 L410.5 374.6 L411.0 374.6 L411.5 374.7 L412.0 374.7 L412.5 374.6 L413.0 374.5 L413.5 374.4 L414.0 374.4 L414.5 374.6 L415.0 374.7 L415.5 374.7 L416.0 374.7 L416.5 374.6 L417.0 374.5 L417.5 374.4 L418.0 374.5 L418.5 374.5 L419.0 374.4 L419.5 374.2 L420.0 373.9 L420.5 373.6 L421.0 373.4 L421.5 373.2 L422.0 373.1 L422.5 373.0 L423.0 372.9 L423.5 372.7 L424.0 372.7 L424.5 372.6 L425.0 372.6 L425.5 372.7 L426.0 372.7 L426.5 372.7 L427.0 372.7 L427.5 372.7 L428.0 372.8 L428.5 372.9 L429.0 372.9 L429.5 372.9 L430.0 372.8 L430.5 372.8 L431.0 372.9 L431.5 373.1 L432.0 373.4 L432.5 373.6 L433.0 373.7 L433.5 373.7 L434.0 373.6 L434.5 373.4 L435.0 373.4 L435.5 373.5 L436.0 373.7 L436.5 373.9 L437.0 374.0 L437.5 373.9 L438.0 373.7 L438.5 373.5 L439.0 373.3 L439.5 373.1 L440.0 373.1 L440.5 373.0 L441.0 373.0 L441.5 373.1 L442.0 373.1 L442.5 373.3 L443.0 373.4 L443.5 373.7 L444.0 373.9 L444.5 374.1 L445.0 374.2 L445.5 374.1 L446.0 373.8 L446.5 373.6 L447.0 373.4 L447.5 373.3 L448.0 373.3 L448.5 373.4 L449.0 373.4 L449.5 373.4 L450.0 373.3 L450.5 373.2 L451.0 373.0 L451.5 372.7 L452.0 372.4 L452.5 372.0 L453.0 371.7 L453.5 371.4 L454.0 371.1 L454.5 370.7 L455.0 370.2 L455.5 369.6 L456.0 368.7 L456.5 367.8 L457.0 366.6 L457.5 365.1 L458.0 363.4 L458.5 361.4 L459.0 359.0 L459.5 356.3 L460.0 353.3 L460.5 349.9 L461.0 346.2 L461.5 342.2 L462.0 337.9 L462.5 333.3 L463.0 328.5 L463.5 323.5 L464.0 318.2 L464.5 312.8 L465.0 307.3 L465.5 301.8 L466.0 296.3 L466.5 291.0 L467.0 285.9 L467.5 281.2 L468.0 276.8 L468.5 273.0 L469.0 269.7 L469.5 267.0 L470.0 265.1 L470.5 263.9 L471.0 263.5 L471.5 263.6 L472.0 264.2 L472.5 265.4 L473.0 267.0 L473.5 269.2 L474.0 271.8 L474.5 274.7 L475.0 278.0 L475.5 281.5 L476.0 285.3 L476.5 289.3 L477.0 293.3 L477.5 297.5 L478.0 301.6 L478.5 305.7 L479.0 309.8 L479.5 313.7 L480.0 317.5 L480.5 321.1 L481.0 324.6 L481.5 327.8 L482.0 330.9 L482.5 333.7 L483.0 336.3 L483.5 338.8 L484.0 341.0 L484.5 343.0 L485.0 344.8 L485.5 346.4 L486.0 347.9 L486.5 349.3 L487.0 350.5 L487.5 351.6 L488.0 352.7 L488.5 353.6 L489.0 354.5 L489.5 355.3 L490.0 356.0 L490.5 356.6 L491.0 357.1 L491.5 357.5 L492.0 357.8 L492.5 357.9 L493.0 358.0 L493.5 358.0 L494.0 358.2 L494.5 358.3 L495.0 358.4 L495.5 358.4 L496.0 358.4 L496.5 358.3 L497.0 358.2 L497.5 358.1 L498.0 357.8 L498.5 357.5 L499.0 357.1 L499.5 356.7 L500.0 356.4 L500.5 356.1 L501.0 356.0 L501.5 355.8 L502.0 355.7 L502.5 355.4 L503.0 355.3 L503.5 355.2 L504.0 355.2 L504.5 355.2 L505.0 355.3 L505.5 355.4 L506.0 355.5 L506.5 355.5 L507.0 355.6 L507.5 355.7 L508.0 355.8 L508.5 356.0 L509.0 356.3 L509.5 356.7 L510.0 357.0 L510.5 357.2 L511.0 357.2 L511.5 357.0 L512.0 356.7 L512.5 356.4 L513.0 356.1 L513.5 355.9 L514.0 355.6 L514.5 355.3 L515.0 355.0 L515.5 354.7 L516.0 354.3 L516.5 353.9 L517.0 353.2 L517.5 352.4 L518.0 351.3 L518.5 349.8 L519.0 347.9 L519.5 345.5 L520.0 342.6 L520.5 339.5 L521.0 336.0 L521.5 332.5 L522.0 329.1 L522.5 325.8 L523.0 322.8 L523.5 320.0 L524.0 317.4 L524.5 314.7 L525.0 311.9 L525.5 308.7 L526.0 305.0 L526.5 300.6 L527.0 295.2 L527.5 288.6 L528.0 280.6 L528.5 270.8 L529.0 258.9 L529.5 244.6 L530.0 227.5 L530.5 207.5 L531.0 184.8 L531.5 159.9 L532.0 134.5 L532.5 111.2 L533.0 93.8 L533.5 85.8 L534.0 88.5 L534.5 99.6 L535.0 117.1 L535.5 138.4 L536.0 161.0 L536.5 183.2 L537.0 203.9 L537.5 222.5 L538.0 238.9 L538.5 253.0 L539.0 265.0 L539.5 275.1 L540.0 283.6 L540.5 290.7 L541.0 296.6 L541.5 301.5 L542.0 305.8 L542.5 309.5 L543.0 312.8 L543.5 315.9 L544.0 318.7 L544.5 321.3 L545.0 323.8 L545.5 326.2 L546.0 328.5 L546.5 330.8 L547.0 333.2 L547.5 335.5 L548.0 337.8 L548.5 340.1 L549.0 342.3 L549.5 344.4 L550.0 346.3 L550.5 348.1 L551.0 349.7 L551.5 351.2 L552.0 352.6 L552.5 354.0 L553.0 355.3 L553.5 356.6 L554.0 357.9 L554.5 359.2 L555.0 360.5 L555.5 361.7 L556.0 362.9 L556.5 364.2 L557.0 365.4 L557.5 366.5 L558.0 367.7 L558.5 368.8 L559.0 369.8 L559.5 370.9 L560.0 371.9 L560.5 372.9 L561.0 373.9 L561.5 374.8 L562.0 375.7 L562.5 376.6 L563.0 377.4 L563.5 378.1 L564.0 378.7 L564.5 379.3 L565.0 379.8 L565.5 380.3 L566.0 380.7 L566.5 381.1 L567.0 381.4 L567.5 381.8 L568.0 382.1 L568.5 382.4 L569.0 382.6 L569.5 382.8 L570.0 383.1 L570.5 383.3 L571.0 383.5 L571.5 383.9 L572.0 384.2 L572.5 384.6 L573.0 384.9 L573.5 385.2 L574.0 385.5 L574.5 385.7 L575.0 386.0 L575.5 386.2 L576.0 386.4 L576.5 386.6 L577.0 386.7 L577.5 386.8 L578.0 386.8 L578.5 386.9 L579.0 386.9 L579.5 387.0 L580.0 387.1 L580.5 387.2 L581.0 387.2 L581.5 387.4 L582.0 387.6 L582.5 387.8 L583.0 388.2 L583.5 388.6 L584.0 389.0 L584.5 389.4 L585.0 389.7 L585.5 389.9 L586.0 389.9 L586.5 390.0 L587.0 390.0 L587.5 390.0 L588.0 390.1 L588.5 390.3 L589.0 390.5 L589.5 390.7 L590.0 390.9 L590.5 391.2 L591.0 391.4 L591.5 391.7 L592.0 391.9 L592.5 392.0 L593.0 392.0 L593.5 392.0 L594.0 392.0 L594.5 392.1 L595.0 392.3 L595.5 392.5 L596.0 392.6 L596.5 392.7 L597.0 392.8 L597.5 392.9 L598.0 393.1 L598.5 393.4 L599.0 393.7 L599.5 394.1 L600.0 394.5 L600.5 394.8 L601.0 395.2 L601.5 395.6 L602.0 396.0 L602.5 396.4 L603.0 396.8 L603.5 397.1 L604.0 397.4 L604.5 397.7 L605.0 397.9 L605.5 398.0 L606.0 398.0 L606.5 397.7 L607.0 397.4 L607.5 397.1 L608.0 396.8 L608.5 396.4 L609.0 396.0 L609.5 395.6 L610.0 395.2 L610.5 394.8 L611.0 394.3 L611.5 393.8 L612.0 393.3 L612.5 392.8 L613.0 392.3 L613.5 391.8 L614.0 391.4 L614.5 391.1 L615.0 390.8 L615.5 390.6 L616.0 390.6 L616.5 390.8 L617.0 391.0 L617.5 391.3 L618.0 391.6 L618.5 392.0 L619.0 392.3 L619.5 392.8 L620.0 393.2 L620.5 393.6 L621.0 394.1 L621.5 394.6 L622.0 395.1 L622.5 395.5 L623.0 396.0 L623.5 396.5 L624.0 397.0 L624.5 397.5 L625.0 398.0 L625.5 398.6 L626.0 399.3 L626.5 400.1 L627.0 401.0 L627.5 402.1 L628.0 403.4 L628.5 405.0 L629.0 406.7 L629.5 408.4 L630.0 410.2 L630.5 411.8 L631.0 413.2 L631.5 414.5 L632.0 415.5 L632.5 416.4 L633.0 417.2 L633.5 417.8 L634.0 418.4 L634.5 419.0 L635.0 419.4 L635.5 419.9 L636.0 419.9 L636.5 419.3 L637.0 418.7 L637.5 417.8 L638.0 416.5 L638.5 414.7 L639.0 412.6 L639.5 410.3 L640.0 407.8 L640.5 405.3 L641.0 402.8 L641.5 400.3 L642.0 397.9 L642.5 395.6 L643.0 393.4 L643.5 391.3 L644.0 389.3 L644.5 387.7 L645.0 386.3" stroke="#756028"/>
<path d="M73.0 385.8 L73.5 385.5 L74.0 385.3 L74.5 385.2 L75.0 385.2 L75.5 385.4 L76.0 385.7 L76.5 386.0 L77.0 386.0 L77.5 385.8 L78.0 385.5 L78.5 385.1 L79.0 384.9 L79.5 385.0 L80.0 385.2 L80.5 385.4 L81.0 385.6 L81.5 385.8 L82.0 386.0 L82.5 386.1 L83.0 386.1 L83.5 386.0 L84.0 385.9 L84.5 385.8 L85.0 385.8 L85.5 385.8 L86.0 385.9 L86.5 386.1 L87.0 386.3 L87.5 386.6 L88.0 386.8 L88.5 386.7 L89.0 386.6 L89.5 386.4 L90.0 386.3 L90.5 386.2 L91.0 386.2 L91.5 386.2 L92.0 386.1 L92.5 386.0 L93.0 385.8 L93.5 385.6 L94.0 385.4 L94.5 385.3 L95.0 385.3 L95.5 385.4 L96.0 385.6 L96.5 385.9 L97.0 386.0 L97.5 386.0 L98.0 385.8 L98.5 385.5 L99.0 385.3 L99.5 385.2 L100.0 385.2 L100.5 385.3 L101.0 385.4 L101.5 385.6 L102.0 385.8 L102.5 385.8 L103.0 385.8 L103.5 385.8 L104.0 385.8 L104.5 385.9 L105.0 386.0 L105.5 386.0 L106.0 385.9 L106.5 385.7 L107.0 385.5 L107.5 385.3 L108.0 385.1 L108.5 384.9 L109.0 384.7 L109.5 384.7 L110.0 384.7 L110.5 384.7 L111.0 384.8 L111.5 384.9 L112.0 384.9 L112.5 384.9 L113.0 385.0 L113.5 385.1 L114.0 385.3 L114.5 385.5 L115.0 385.7 L115.5 385.9 L116.0 386.2 L116.5 386.5 L117.0 386.7 L117.5 386.8 L118.0 386.8 L118.5 386.8 L119.0 386.7 L119.5 386.5 L120.0 386.5 L120.5 386.5 L121.0 386.7 L121.5 386.7 L122.0 386.7 L122.5 386.6 L123.0 386.3 L123.5 386.1 L124.0 385.9 L124.5 385.8 L125.0 385.7 L125.5 385.7 L126.0 385.6 L126.5 385.6 L127.0 385.5 L127.5 385.3 L128.0 385.1 L128.5 385.0 L129.0 385.1 L129.5 385.2 L130.0 385.4 L130.5 385.5 L131.0 385.5 L131.5 385.4 L132.0 385.3 L132.5 385.2 L133.0 385.1 L133.5 385.0 L134.0 385.0 L134.5 384.9 L135.0 384.9 L135.5 384.9 L136.0 385.0 L136.5 385.2 L137.0 385.4 L137.5 385.6 L138.0 385.7 L138.5 385.8 L139.0 385.9 L139.5 386.0 L140.0 386.2 L140.5 386.3 L141.0 386.3 L141.5 386.2 L142.0 386.0 L142.5 385.8 L143.0 385.4 L143.5 385.0 L144.0 384.5 L144.5 384.3 L145.0 384.4 L145.5 384.8 L146.0 385.2 L146.5 385.6 L147.0 385.8 L147.5 385.8 L148.0 385.7 L148.5 385.5 L149.0 385.3 L149.5 385.2 L150.0 385.2 L150.5 385.3 L151.0 385.3 L151.5 385.3 L152.0 385.1 L152.5 385.0 L153.0 385.0 L153.5 385.1 L154.0 385.2 L154.5 385.2 L155.0 385.2 L155.5 385.2 L156.0 385.2 L156.5 385.3 L157.0 385.5 L157.5 385.6 L158.0 385.6 L158.5 385.6 L159.0 385.5 L159.5 385.5 L160.0 385.5 L160.5 385.6 L161.0 385.7 L161.5 385.8 L162.0 385.9 L162.5 386.0 L163.0 386.0 L163.5 386.0 L164.0 386.0 L164.5 386.0 L165.0 386.2 L165.5 386.3 L166.0 386.4 L166.5 386.5 L167.0 386.4 L167.5 386.3 L168.0 386.3 L168.5 386.2 L169.0 386.2 L169.5 386.2 L170.0 386.0 L170.5 385.9 L171.0 385.7 L171.5 385.4 L172.0 385.2 L172.5 385.0 L173.0 384.9 L173.5 384.8 L174.0 384.8 L174.5 384.9 L175.0 385.0 L175.5 385.1 L176.0 385.1 L176.5 384.9 L177.0 384.8 L177.5 384.6 L178.0 384.6 L178.5 384.6 L179.0 384.5 L179.5 384.4 L180.0 384.4 L180.5 384.5 L181.0 384.7 L181.5 385.0 L182.0 385.3 L182.5 385.6 L183.0 385.7 L183.5 385.7 L184.0 385.6 L184.5 385.5 L185.0 385.3 L185.5 385.1 L186.0 384.8 L186.5 384.4 L187.0 383.9 L187.5 383.5 L188.0 383.3 L188.5 383.3 L189.0 383.4 L189.5 383.7 L190.0 384.0 L190.5 384.2 L191.0 384.4 L191.5 384.4 L192.0 384.3 L192.5 384.1 L193.0 384.0 L193.5 384.0 L194.0 384.2 L194.5 384.4 L195.0 384.7 L195.5 384.9 L196.0 384.9 L196.5 384.7 L197.0 384.6 L197.5 384.4 L198.0 384.3 L198.5 384.3 L199.0 384.2 L199.5 384.1 L200.0 384.0 L200.5 383.8 L201.0 383.6 L201.5 383.5 L202.0 383.5 L202.5 383.6 L203.0 383.7 L203.5 383.7 L204.0 383.6 L204.5 383.5 L205.0 383.3 L205.5 383.1 L206.0 382.9 L206.5 382.8 L207.0 382.6 L207.5 382.4 L208.0 382.3 L208.5 382.3 L209.0 382.3 L209.5 382.3 L210.0 382.3 L210.5 382.1 L211.0 381.9 L211.5 381.7 L212.0 381.6 L212.5 381.6 L213.0 381.5 L213.5 381.4 L214.0 381.3 L214.5 381.1 L215.0 380.8 L215.5 380.6 L216.0 380.4 L216.5 380.2 L217.0 380.1 L217.5 380.0 L218.0 379.8 L218.5 379.6 L219.0 379.4 L219.5 379.1 L220.0 378.9 L220.5 378.6 L221.0 378.4 L221.5 378.2 L222.0 378.1 L222.5 378.2 L223.0 378.5 L223.5 378.8 L224.0 379.0 L224.5 379.1 L225.0 379.1 L225.5 379.1 L226.0 379.2 L226.5 379.4 L227.0 379.6 L227.5 379.7 L228.0 379.7 L228.5 379.6 L229.0 379.4 L229.5 379.2 L230.0 379.2 L230.5 379.4 L231.0 379.7 L231.5 380.0 L232.0 380.2 L232.5 380.2 L233.0 380.1 L233.5 380.1 L234.0 380.0 L234.5 380.0 L235.0 380.1 L235.5 380.2 L236.0 380.3 L236.5 380.4 L237.0 380.6 L237.5 380.8 L238.0 381.0 L238.5 381.1 L239.0 381.3 L239.5 381.6 L240.0 381.8 L240.5 382.0 L241.0 382.2 L241.5 382.4 L242.0 382.4 L242.5 382.5 L243.0 382.5 L243.5 382.4 L244.0 382.4 L244.5 382.2 L245.0 382.1 L245.5 381.9 L246.0 381.9 L246.5 382.0 L247.0 382.3 L247.5 382.6 L248.0 382.9 L248.5 383.1 L249.0 383.2 L249.5 383.3 L250.0 383.4 L250.5 383.5 L251.0 383.6 L251.5 383.5 L252.0 383.4 L252.5 383.3 L253.0 383.4 L253.5 383.6 L254.0 383.8 L254.5 383.8 L255.0 383.8 L255.5 383.8 L256.0 383.7 L256.5 383.7 L257.0 383.7 L257.5 383.7 L258.0 383.6 L258.5 383.6 L259.0 383.6 L259.5 383.6 L260.0 383.7 L260.5 383.7 L261.0 383.8 L261.5 384.0 L262.0 384.2 L262.5 384.5 L263.0 384.8 L263.5 384.9 L264.0 385.0 L264.5 384.9 L265.0 384.9 L265.5 384.8 L266.0 384.8 L266.5 384.8 L267.0 384.8 L267.5 384.7 L268.0 384.5 L268.5 384.3 L269.0 384.1 L269.5 383.8 L270.0 383.5 L270.5 383.3 L271.0 383.2 L271.5 383.1 L272.0 383.2 L272.5 383.2 L273.0 383.3 L273.5 383.4 L274.0 383.5 L274.5 383.7 L275.0 383.8 L275.5 383.9 L276.0 384.0 L276.5 384.0 L277.0 384.1 L277.5 384.2 L278.0 384.3 L278.5 384.2 L279.0 384.2 L279.5 384.1 L280.0 384.1 L280.5 384.1 L281.0 384.0 L281.5 383.7 L282.0 383.5 L282.5 383.3 L283.0 383.2 L283.5 383.1 L284.0 383.1 L284.5 383.1 L285.0 383.1 L285.5 383.1 L286.0 383.2 L286.5 383.4 L287.0 383.6 L287.5 383.7 L288.0 383.8 L288.5 383.7 L289.0 383.6 L289.5 383.4 L290.0 383.4 L290.5 383.4 L291.0 383.5 L291.5 383.7 L292.0 383.8 L292.5 383.8 L293.0 383.7 L293.5 383.4 L294.0 383.1 L294.5 382.8 L295.0 382.4 L295.5 382.1 L296.0 381.9 L296.5 381.6 L297.0 381.3 L297.5 380.9 L298.0 380.5 L298.5 380.0 L299.0 379.4 L299.5 378.6 L300.0 377.8 L300.5 376.8 L301.0 375.8 L301.5 374.8 L302.0 373.8 L302.5 372.9 L303.0 371.9 L303.5 371.0 L304.0 370.0 L304.5 368.8 L305.0 367.5 L305.5 365.9 L306.0 364.1 L306.5 361.9 L307.0 359.4 L307.5 356.5 L308.0 353.0 L308.5 348.7 L309.0 343.5 L309.5 337.4 L310.0 330.2 L310.5 322.1 L311.0 313.6 L311.5 304.8 L312.0 296.1 L312.5 287.6 L313.0 279.5 L313.5 271.7 L314.0 264.4 L314.5 257.6 L315.0 251.5 L315.5 246.2 L316.0 241.8 L316.5 238.5 L317.0 236.3 L317.5 235.3 L318.0 235.5 L318.5 236.7 L319.0 238.8 L319.5 241.8 L320.0 245.5 L320.5 250.0 L321.0 255.1 L321.5 260.7 L322.0 266.8 L322.5 273.1 L323.0 279.6 L323.5 286.2 L324.0 292.8 L324.5 299.3 L325.0 305.6 L325.5 311.8 L326.0 317.7 L326.5 323.4 L327.0 328.7 L327.5 333.6 L328.0 338.1 L328.5 342.1 L329.0 345.5 L329.5 348.4 L330.0 350.8 L330.5 352.9 L331.0 354.7 L331.5 356.4 L332.0 358.0 L332.5 359.7 L333.0 361.5 L333.5 363.2 L334.0 364.9 L334.5 366.5 L335.0 367.9 L335.5 369.2 L336.0 370.4 L336.5 371.5 L337.0 372.4 L337.5 373.2 L338.0 374.0 L338.5 374.5 L339.0 375.0 L339.5 375.4 L340.0 375.7 L340.5 376.0 L341.0 376.2 L341.5 376.4 L342.0 376.5 L342.5 376.4 L343.0 376.2 L343.5 376.0 L344.0 375.9 L344.5 375.8 L345.0 375.7 L345.5 375.5 L346.0 375.3 L346.5 375.0 L347.0 374.7 L347.5 374.4 L348.0 374.1 L348.5 373.8 L349.0 373.5 L349.5 373.2 L350.0 372.8 L350.5 372.3 L351.0 371.9 L351.5 371.4 L352.0 371.0 L352.5 370.5 L353.0 370.0 L353.5 369.5 L354.0 369.0 L354.5 368.6 L355.0 368.2 L355.5 367.9 L356.0 367.6 L356.5 367.5 L357.0 367.5 L357.5 367.5 L358.0 367.3 L358.5 367.2 L359.0 367.2 L359.5 367.4 L360.0 367.7 L360.5 368.1 L361.0 368.5 L361.5 368.9 L362.0 369.2 L362.5 369.6 L363.0 370.0 L363.5 370.4 L364.0 370.8 L364.5 371.2 L365.0 371.6 L365.5 372.0 L366.0 372.4 L366.5 372.8 L367.0 373.3 L367.5 373.7 L368.0 374.2 L368.5 374.7 L369.0 375.1 L369.5 375.6 L370.0 376.1 L370.5 376.6 L371.0 377.1 L371.5 377.5 L372.0 378.0 L372.5 378.4 L373.0 378.8 L373.5 378.9 L374.0 378.6 L374.5 378.3 L375.0 377.9 L375.5 377.7 L376.0 377.5 L376.5 377.3 L377.0 377.2 L377.5 377.0 L378.0 376.7 L378.5 376.5 L379.0 376.2 L379.5 376.0 L380.0 375.9 L380.5 375.9 L381.0 375.9 L381.5 375.8 L382.0 375.9 L382.5 376.0 L383.0 376.3 L383.5 376.6 L384.0 376.9 L384.5 377.2 L385.0 377.5 L385.5 377.9 L386.0 378.2 L386.5 378.6 L387.0 379.0 L387.5 379.3 L388.0 379.7 L388.5 380.0 L389.0 380.3 L389.5 380.5 L390.0 380.8 L390.5 381.0 L391.0 381.1 L391.5 381.3 L392.0 381.4 L392.5 381.5 L393.0 381.7 L393.5 381.9 L394.0 382.1 L394.5 382.4 L395.0 382.6 L395.5 382.7 L396.0 382.8 L396.5 382.8 L397.0 382.6 L397.5 382.5 L398.0 382.3 L398.5 382.3 L399.0 382.4 L399.5 382.7 L400.0 383.1 L400.5 383.4 L401.0 383.7 L401.5 383.9 L402.0 384.1 L402.5 384.1 L403.0 384.1 L403.5 383.9 L404.0 383.7 L404.5 383.5 L405.0 383.4 L405.5 383.5 L406.0 383.7 L406.5 383.9 L407.0 384.1 L407.5 384.1 L408.0 384.0 L408.5 383.8 L409.0 383.6 L409.5 383.4 L410.0 383.4 L410.5 383.6 L411.0 383.8 L411.5 384.0 L412.0 384.1 L412.5 384.1 L413.0 384.1 L413.5 384.2 L414.0 384.4 L414.5 384.8 L415.0 385.1 L415.5 385.3 L416.0 385.4 L416.5 385.4 L417.0 385.4 L417.5 385.4 L418.0 385.3 L418.5 385.2 L419.0 385.2 L419.5 385.3 L420.0 385.6 L420.5 385.8 L421.0 386.0 L421.5 385.9 L422.0 385.8 L422.5 385.7 L423.0 385.5 L423.5 385.3 L424.0 385.1 L424.5 385.0 L425.0 384.9 L425.5 384.8 L426.0 384.7 L426.5 384.5 L427.0 384.5 L427.5 384.5 L428.0 384.6 L428.5 384.8 L429.0 384.9 L429.5 385.0 L430.0 385.0 L430.5 385.0 L431.0 384.9 L431.5 384.7 L432.0 384.5 L432.5 384.2 L433.0 383.9 L433.5 383.8 L434.0 383.7 L434.5 383.7 L435.0 383.6 L435.5 383.5 L436.0 383.4 L436.5 383.4 L437.0 383.4 L437.5 383.4 L438.0 383.5 L438.5 383.6 L439.0 383.6 L439.5 383.6 L440.0 383.6 L440.5 383.4 L441.0 383.3 L441.5 383.3 L442.0 383.3 L442.5 383.4 L443.0 383.4 L443.5 383.4 L444.0 383.3 L444.5 383.2 L445.0 382.9 L445.5 382.7 L446.0 382.6 L446.5 382.5 L447.0 382.6 L447.5 382.7 L448.0 382.8 L448.5 382.7 L449.0 382.5 L449.5 382.3 L450.0 382.0 L450.5 381.8 L451.0 381.6 L451.5 381.4 L452.0 381.3 L452.5 381.2 L453.0 381.1 L453.5 381.0 L454.0 380.9 L454.5 380.8 L455.0 380.7 L455.5 380.4 L456.0 380.1 L456.5 379.7 L457.0 379.2 L457.5 378.6 L458.0 377.9 L458.5 377.1 L459.0 376.1 L459.5 374.9 L460.0 373.6 L460.5 372.0 L461.0 370.2 L461.5 368.0 L462.0 365.4 L462.5 362.1 L463.0 358.1 L463.5 353.2 L464.0 347.5 L464.5 341.2 L465.0 334.6 L465.5 328.1 L466.0 322.0 L466.5 316.4 L467.0 311.2 L467.5 306.5 L468.0 302.2 L468.5 298.3 L469.0 294.9 L469.5 291.8 L470.0 289.3 L470.5 287.4 L471.0 285.9 L471.5 285.0 L472.0 284.4 L472.5 284.2 L473.0 284.7 L473.5 285.4 L474.0 286.4 L474.5 287.7 L475.0 289.2 L475.5 291.1 L476.0 293.1 L476.5 295.3 L477.0 297.6 L477.5 300.1 L478.0 302.5 L478.5 305.1 L479.0 307.7 L479.5 310.3 L480.0 313.2 L480.5 316.4 L481.0 320.1 L481.5 324.5 L482.0 329.4 L482.5 334.6 L483.0 339.7 L483.5 344.2 L484.0 347.9 L484.5 350.8 L485.0 353.1 L485.5 354.8 L486.0 356.2 L486.5 357.4 L487.0 358.5 L487.5 359.5 L488.0 360.4 L488.5 361.3 L489.0 362.1 L489.5 362.9 L490.0 363.5 L490.5 364.0 L491.0 364.5 L491.5 364.8 L492.0 365.1 L492.5 365.4 L493.0 365.8 L493.5 366.2 L494.0 366.4 L494.5 366.5 L495.0 366.4 L495.5 366.1 L496.0 365.8 L496.5 365.5 L497.0 365.1 L497.5 364.8 L498.0 364.5 L498.5 364.4 L499.0 364.2 L499.5 364.1 L500.0 364.1 L500.5 364.2 L501.0 364.3 L501.5 364.4 L502.0 364.4 L502.5 364.4 L503.0 364.2 L503.5 364.0 L504.0 363.9 L504.5 364.1 L505.0 364.3 L505.5 364.5 L506.0 364.8 L506.5 365.0 L507.0 365.3 L507.5 365.6 L508.0 365.9 L508.5 366.1 L509.0 366.2 L509.5 366.3 L510.0 366.2 L510.5 366.1 L511.0 366.0 L511.5 366.0 L512.0 366.0 L512.5 366.1 L513.0 366.1 L513.5 366.0 L514.0 365.8 L514.5 365.5 L515.0 365.2 L515.5 364.8 L516.0 364.5 L516.5 364.0 L517.0 363.5 L517.5 362.9 L518.0 362.1 L518.5 361.2 L519.0 360.0 L519.5 358.4 L520.0 356.5 L520.5 354.1 L521.0 351.1 L521.5 347.5 L522.0 343.4 L522.5 338.8 L523.0 333.9 L523.5 328.9 L524.0 324.0 L524.5 319.1 L525.0 314.3 L525.5 309.2 L526.0 303.6 L526.5 297.2 L527.0 289.8 L527.5 280.9 L528.0 270.5 L528.5 258.3 L529.0 244.2 L529.5 227.9 L530.0 209.5 L530.5 189.2 L531.0 167.7 L531.5 146.1 L532.0 126.3 L532.5 110.7 L533.0 101.6 L533.5 100.6 L534.0 107.2 L534.5 120.2 L535.0 137.6 L535.5 157.5 L536.0 178.1 L536.5 198.0 L537.0 216.7 L537.5 233.6 L538.0 248.6 L538.5 261.7 L539.0 273.0 L539.5 282.7 L540.0 290.9 L540.5 297.9 L541.0 303.8 L541.5 308.8 L542.0 313.0 L542.5 316.7 L543.0 319.9 L543.5 322.7 L544.0 325.4 L544.5 328.0 L545.0 330.7 L545.5 333.6 L546.0 336.7 L546.5 340.0 L547.0 343.3 L547.5 346.5 L548.0 349.5 L548.5 352.1 L549.0 354.5 L549.5 356.7 L550.0 358.6 L550.5 360.3 L551.0 362.0 L551.5 363.5 L552.0 364.9 L552.5 366.3 L553.0 367.6 L553.5 368.8 L554.0 370.0 L554.5 371.1 L555.0 372.2 L555.5 373.3 L556.0 374.3 L556.5 375.2 L557.0 376.2 L557.5 377.1 L558.0 377.9 L558.5 378.7 L559.0 379.5 L559.5 380.3 L560.0 381.0 L560.5 381.7 L561.0 382.4 L561.5 383.1 L562.0 383.8 L562.5 384.4 L563.0 385.0 L563.5 385.5 L564.0 386.1 L564.5 386.6 L565.0 387.0 L565.5 387.5 L566.0 387.9 L566.5 388.4 L567.0 388.8 L567.5 389.2 L568.0 389.6 L568.5 389.9 L569.0 390.2 L569.5 390.5 L570.0 390.8 L570.5 391.1 L571.0 391.5 L571.5 391.8 L572.0 392.1 L572.5 392.3 L573.0 392.5 L573.5 392.6 L574.0 392.7 L574.5 392.8 L575.0 393.0 L575.5 393.2 L576.0 393.5 L576.5 393.8 L577.0 394.0 L577.5 394.2 L578.0 394.4 L578.5 394.6 L579.0 394.8 L579.5 395.0 L580.0 395.2 L580.5 395.4 L581.0 395.6 L581.5 395.9 L582.0 396.1 L582.5 396.3 L583.0 396.5 L583.5 396.7 L584.0 396.8 L584.5 396.8 L585.0 396.9 L585.5 396.9 L586.0 397.0 L586.5 397.2 L587.0 397.3 L587.5 397.5 L588.0 397.6 L588.5 397.7 L589.0 397.6 L589.5 397.6 L590.0 397.6 L590.5 397.6 L591.0 397.8 L591.5 398.2 L592.0 398.5 L592.5 398.9 L593.0 399.1 L593.5 399.3 L594.0 399.5 L594.5 399.6 L595.0 399.8 L595.5 399.9 L596.0 400.0 L596.5 400.2 L597.0 400.3 L597.5 400.6 L598.0 400.8 L598.5 401.2 L599.0 401.5 L599.5 401.9 L600.0 402.3 L600.5 402.7 L601.0 403.0 L601.5 403.4 L602.0 403.7 L602.5 404.0 L603.0 404.3 L603.5 404.5 L604.0 404.7 L604.5 404.8 L605.0 405.0 L605.5 405.1 L606.0 405.1 L606.5 405.0 L607.0 404.8 L607.5 404.6 L608.0 404.3 L608.5 403.9 L609.0 403.6 L609.5 403.2 L610.0 402.8 L610.5 402.4 L611.0 401.9 L611.5 401.5 L612.0 401.0 L612.5 400.6 L613.0 400.3 L613.5 400.0 L614.0 399.8 L614.5 399.7 L615.0 399.7 L615.5 399.5 L616.0 399.3 L616.5 399.2 L617.0 399.4 L617.5 399.7 L618.0 400.0 L618.5 400.3 L619.0 400.7 L619.5 401.0 L620.0 401.4 L620.5 401.7 L621.0 402.1 L621.5 402.6 L622.0 403.2 L622.5 403.9 L623.0 404.7 L623.5 405.6 L624.0 406.6 L624.5 407.6 L625.0 408.5 L625.5 409.5 L626.0 410.4 L626.5 411.3 L627.0 412.1 L627.5 412.8 L628.0 413.5 L628.5 414.1 L629.0 414.7 L629.5 415.2 L630.0 415.7 L630.5 416.3 L631.0 416.8 L631.5 417.2 L632.0 417.7 L632.5 418.1 L633.0 418.5 L633.5 418.9 L634.0 419.2 L634.5 419.4 L635.0 419.4 L635.5 419.2 L636.0 419.2 L636.5 419.4 L637.0 419.1 L637.5 418.5 L638.0 417.4 L638.5 416.1 L639.0 414.4 L639.5 412.5 L640.0 410.4 L640.5 408.2 L641.0 406.1 L641.5 404.0 L642.0 401.9 L642.5 400.0 L643.0 398.1 L643.5 396.4 L644.0 394.8 L644.5 393.4 L645.0 392.3" stroke="#dbd652"/>
</g>
<path d="M72.50 10.55H646.00M72.50 402.45H646.00" fill="none" stroke="#1c1c1c" stroke-width="2.15"/>
<path d="M73.50 10.55V402.45M645.00 10.55V402.45" fill="none" stroke="#2a2a2a" stroke-width="2"/>
<path d="M73.5 366.9h9.0M73.5 295.6h9.0M73.5 224.3h9.0M73.5 153.1h9.0M73.5 81.8h9.0M168.5 402.4v-9.4M359.4 402.4v-9.4M549.7 402.4v-9.4" stroke="#262626" stroke-width="1.6" fill="none"/>
<g font-size="27.2" fill="#000" stroke="#000" stroke-width="0.35" lengthAdjust="spacingAndGlyphs">
<text x="62.5" y="376.6" text-anchor="end" textLength="14" lengthAdjust="spacingAndGlyphs">0</text>
<text x="62.5" y="305.3" text-anchor="end" textLength="14" lengthAdjust="spacingAndGlyphs">2</text>
<text x="62.5" y="234.0" text-anchor="end" textLength="14" lengthAdjust="spacingAndGlyphs">4</text>
<text x="62.5" y="162.8" text-anchor="end" textLength="14" lengthAdjust="spacingAndGlyphs">6</text>
<text x="62.5" y="91.5" text-anchor="end" textLength="14" lengthAdjust="spacingAndGlyphs">8</text>
<path transform="translate(33.80 18.90) scale(0.01229 -0.01328)" d="M763 0H583V1147Q518 1085 412.5 1023T223 930V1104Q374 1175 487 1276T647 1472H763Z" fill="#000" stroke="#000" stroke-width="26"/><text x="48.50" y="18.90" textLength="14.0" lengthAdjust="spacingAndGlyphs">0</text>
<text x="168.5" y="432.4" text-anchor="middle" textLength="14" lengthAdjust="spacingAndGlyphs">6</text>
<text x="359.4" y="432.4" text-anchor="middle" textLength="14" lengthAdjust="spacingAndGlyphs">8</text>
<path transform="translate(535.00 432.40) scale(0.01229 -0.01328)" d="M763 0H583V1147Q518 1085 412.5 1023T223 930V1104Q374 1175 487 1276T647 1472H763Z" fill="#000" stroke="#000" stroke-width="26"/><text x="549.70" y="432.40" textLength="14.0" lengthAdjust="spacingAndGlyphs">0</text>
</g>
<text x="358.0" y="461.2" font-size="25.5" font-weight="bold" text-anchor="middle" fill="#000" textLength="129.2" lengthAdjust="spacingAndGlyphs">Time (min)</text>
<text transform="translate(19.2 207.3) rotate(-90)" font-size="25.5" font-weight="bold" text-anchor="middle" fill="#000" textLength="233" lengthAdjust="spacingAndGlyphs">Absorbance (mAU)</text>
<g font-size="24.7" fill="#000" stroke="#000" stroke-width="0.4">
<path d="M88.3 28.8H126.3" stroke="#222222" stroke-width="1.9" fill="none"/>
<text x="131.5" y="37.0" textLength="263.8" lengthAdjust="spacingAndGlyphs">Reduced Native Insulin</text>
<path d="M88.3 52.4H126.3" stroke="#e0262e" stroke-width="1.9" fill="none"/>
<text x="131.5" y="61.0" textLength="45.66" lengthAdjust="spacingAndGlyphs">Day</text>
<path transform="translate(184.29 60.95) scale(0.01253 -0.01206)" d="M763 0H583V1147Q518 1085 412.5 1023T223 930V1104Q374 1175 487 1276T647 1472H763Z" fill="#000" stroke="#000" stroke-width="33"/>
<text x="205.71" y="61.0" textLength="102.76" lengthAdjust="spacingAndGlyphs">Reduced</text>
<path d="M88.3 76.4H126.3" stroke="#3358b8" stroke-width="1.9" fill="none"/>
<text x="131.5" y="84.9" textLength="177.0" lengthAdjust="spacingAndGlyphs">Day 3 Reduced</text>
<path d="M88.3 100.3H126.3" stroke="#756028" stroke-width="1.9" fill="none"/>
<text x="131.5" y="108.8" textLength="177.0" lengthAdjust="spacingAndGlyphs">Day 5 Reduced</text>
<path d="M88.3 124.3H126.3" stroke="#dbd652" stroke-width="1.9" fill="none"/>
<text x="131.5" y="132.8" textLength="177.0" lengthAdjust="spacingAndGlyphs">Day 7 Reduced</text>
<text x="187.5" y="160.9" textLength="87" lengthAdjust="spacingAndGlyphs">B-chain</text>
<text x="393.6" y="162.9" textLength="86" lengthAdjust="spacingAndGlyphs">A-chain</text>
</g>
<path d="M277.3 150.7L306.6 164.1" stroke="#111" stroke-width="1.5" fill="none"/><path d="M311.3 166.3L304.5 166.2L306.8 161.3Z" fill="#111"/>
<path d="M444.8 167.3L463.3 188.5" stroke="#111" stroke-width="1.5" fill="none"/><path d="M466.6 192.3L460.7 189.5L464.6 186.1Z" fill="#111"/>
<path d="M223.5 342.4L223.5 353.0" stroke="#111" stroke-width="1.6" fill="none"/><path d="M223.5 357.6L220.7 352.0L226.3 352.0Z" fill="#111"/>
<path d="M399.8 336.7L389.6 354.8" stroke="#111" stroke-width="1.5" fill="none"/><path d="M387.3 358.8L387.8 352.6L392.3 355.2Z" fill="#111"/>
</svg>
</body></html>
